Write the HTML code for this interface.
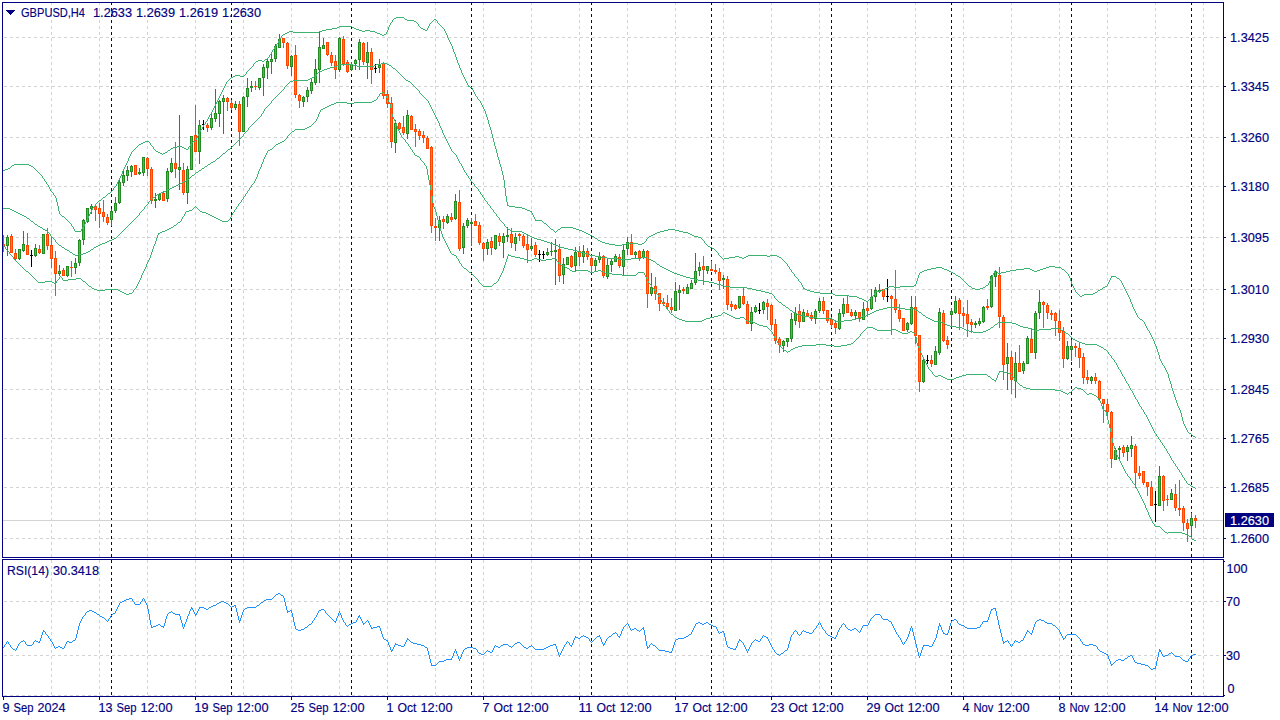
<!DOCTYPE html><html><head><meta charset="utf-8"><title>GBPUSD,H4</title>
<style>html,body{margin:0;padding:0;background:#fff;overflow:hidden}svg{display:block}text{font-family:"Liberation Sans",sans-serif;font-size:12.5px;fill:#000080;stroke:#000080;stroke-width:.15px}</style></head><body>
<svg width="1280" height="720" viewBox="0 0 1280 720">
<rect width="1280" height="720" fill="#fff"/>
<g shape-rendering="crispEdges">
<g stroke="#d3d3d3" stroke-width="1" stroke-dasharray="3 3" fill="none">
<path d="M51.5 2V557M51.5 560V696"/>
<path d="M99.5 2V557M99.5 560V696"/>
<path d="M147.5 2V557M147.5 560V696"/>
<path d="M195.5 2V557M195.5 560V696"/>
<path d="M243.5 2V557M243.5 560V696"/>
<path d="M291.5 2V557M291.5 560V696"/>
<path d="M339.5 2V557M339.5 560V696"/>
<path d="M387.5 2V557M387.5 560V696"/>
<path d="M435.5 2V557M435.5 560V696"/>
<path d="M483.5 2V557M483.5 560V696"/>
<path d="M531.5 2V557M531.5 560V696"/>
<path d="M579.5 2V557M579.5 560V696"/>
<path d="M627.5 2V557M627.5 560V696"/>
<path d="M675.5 2V557M675.5 560V696"/>
<path d="M723.5 2V557M723.5 560V696"/>
<path d="M771.5 2V557M771.5 560V696"/>
<path d="M819.5 2V557M819.5 560V696"/>
<path d="M867.5 2V557M867.5 560V696"/>
<path d="M915.5 2V557M915.5 560V696"/>
<path d="M963.5 2V557M963.5 560V696"/>
<path d="M1011.5 2V557M1011.5 560V696"/>
<path d="M1059.5 2V557M1059.5 560V696"/>
<path d="M1107.5 2V557M1107.5 560V696"/>
<path d="M1155.5 2V557M1155.5 560V696"/>
<path d="M1203.5 2V557M1203.5 560V696"/>
<path d="M4 37.5H1221"/>
<path d="M4 86.5H1221"/>
<path d="M4 137.5H1221"/>
<path d="M4 186.5H1221"/>
<path d="M4 237.5H1221"/>
<path d="M4 289.5H1221"/>
<path d="M4 338.5H1221"/>
<path d="M4 389.5H1221"/>
<path d="M4 438.5H1221"/>
<path d="M4 487.5H1221"/>
<path d="M4 538.5H1221"/>
<path d="M4 601.5H1221"/>
<path d="M4 655.5H1221"/>
<path d="M4 695.5H1221"/>
</g>
<g stroke="#000080" stroke-width="1" stroke-dasharray="3 3" fill="none">
<path d="M111.5 2V557M111.5 560V696"/>
<path d="M231.5 2V557M231.5 560V696"/>
<path d="M351.5 2V557M351.5 560V696"/>
<path d="M471.5 2V557M471.5 560V696"/>
<path d="M591.5 2V557M591.5 560V696"/>
<path d="M711.5 2V557M711.5 560V696"/>
<path d="M831.5 2V557M831.5 560V696"/>
<path d="M951.5 2V557M951.5 560V696"/>
<path d="M1071.5 2V557M1071.5 560V696"/>
<path d="M1191.5 2V557M1191.5 560V696"/>
</g>
<rect x="3" y="520" width="1220" height="1" fill="#d3d3d3"/>
<rect x="3" y="235" width="1" height="17" fill="#ff4500"/>
<rect x="2" y="244" width="3" height="2" fill="#ff4500"/>
<rect x="7" y="235" width="1" height="21" fill="#228b22"/>
<rect x="6" y="237" width="3" height="9" fill="#228b22"/>
<rect x="7" y="238" width="1" height="7" fill="#32cd32"/>
<rect x="11" y="234" width="1" height="19" fill="#ff4500"/>
<rect x="10" y="236" width="3" height="17" fill="#ff4500"/>
<rect x="11" y="237" width="1" height="15" fill="#ff8c00"/>
<rect x="15" y="249" width="1" height="12" fill="#ff4500"/>
<rect x="14" y="253" width="3" height="6" fill="#ff4500"/>
<rect x="15" y="254" width="1" height="4" fill="#ff8c00"/>
<rect x="19" y="249" width="1" height="11" fill="#228b22"/>
<rect x="18" y="249" width="3" height="10" fill="#228b22"/>
<rect x="19" y="250" width="1" height="8" fill="#32cd32"/>
<rect x="23" y="231" width="1" height="21" fill="#228b22"/>
<rect x="22" y="244" width="3" height="7" fill="#228b22"/>
<rect x="23" y="245" width="1" height="5" fill="#32cd32"/>
<rect x="27" y="233" width="1" height="22" fill="#ff4500"/>
<rect x="26" y="245" width="3" height="10" fill="#ff4500"/>
<rect x="27" y="246" width="1" height="8" fill="#ff8c00"/>
<rect x="31" y="250" width="1" height="17" fill="#000"/>
<rect x="30" y="255" width="3" height="1" fill="#000"/>
<rect x="35" y="244" width="1" height="13" fill="#228b22"/>
<rect x="34" y="248" width="3" height="8" fill="#228b22"/>
<rect x="35" y="249" width="1" height="6" fill="#32cd32"/>
<rect x="39" y="245" width="1" height="9" fill="#ff4500"/>
<rect x="38" y="249" width="3" height="4" fill="#ff4500"/>
<rect x="39" y="250" width="1" height="2" fill="#ff8c00"/>
<rect x="43" y="234" width="1" height="20" fill="#228b22"/>
<rect x="42" y="234" width="3" height="20" fill="#228b22"/>
<rect x="43" y="235" width="1" height="18" fill="#32cd32"/>
<rect x="47" y="228" width="1" height="22" fill="#ff4500"/>
<rect x="46" y="234" width="3" height="12" fill="#ff4500"/>
<rect x="47" y="235" width="1" height="10" fill="#ff8c00"/>
<rect x="51" y="237" width="1" height="31" fill="#ff4500"/>
<rect x="50" y="245" width="3" height="14" fill="#ff4500"/>
<rect x="51" y="246" width="1" height="12" fill="#ff8c00"/>
<rect x="55" y="251" width="1" height="45" fill="#ff4500"/>
<rect x="54" y="258" width="3" height="16" fill="#ff4500"/>
<rect x="55" y="259" width="1" height="14" fill="#ff8c00"/>
<rect x="59" y="265" width="1" height="11" fill="#228b22"/>
<rect x="58" y="271" width="3" height="3" fill="#228b22"/>
<rect x="59" y="272" width="1" height="1" fill="#32cd32"/>
<rect x="63" y="268" width="1" height="8" fill="#ff4500"/>
<rect x="62" y="270" width="3" height="6" fill="#ff4500"/>
<rect x="63" y="271" width="1" height="4" fill="#ff8c00"/>
<rect x="67" y="266" width="1" height="11" fill="#228b22"/>
<rect x="66" y="266" width="3" height="10" fill="#228b22"/>
<rect x="67" y="267" width="1" height="8" fill="#32cd32"/>
<rect x="71" y="261" width="1" height="16" fill="#ff4500"/>
<rect x="70" y="267" width="3" height="1" fill="#ff4500"/>
<rect x="75" y="258" width="1" height="16" fill="#228b22"/>
<rect x="74" y="263" width="3" height="5" fill="#228b22"/>
<rect x="75" y="264" width="1" height="3" fill="#32cd32"/>
<rect x="79" y="239" width="1" height="27" fill="#228b22"/>
<rect x="78" y="240" width="3" height="23" fill="#228b22"/>
<rect x="79" y="241" width="1" height="21" fill="#32cd32"/>
<rect x="83" y="219" width="1" height="26" fill="#228b22"/>
<rect x="82" y="220" width="3" height="20" fill="#228b22"/>
<rect x="83" y="221" width="1" height="18" fill="#32cd32"/>
<rect x="87" y="208" width="1" height="15" fill="#228b22"/>
<rect x="86" y="208" width="3" height="14" fill="#228b22"/>
<rect x="87" y="209" width="1" height="12" fill="#32cd32"/>
<rect x="91" y="204" width="1" height="10" fill="#228b22"/>
<rect x="90" y="206" width="3" height="3" fill="#228b22"/>
<rect x="91" y="207" width="1" height="1" fill="#32cd32"/>
<rect x="95" y="206" width="1" height="15" fill="#ff4500"/>
<rect x="94" y="206" width="3" height="4" fill="#ff4500"/>
<rect x="95" y="207" width="1" height="2" fill="#ff8c00"/>
<rect x="99" y="203" width="1" height="25" fill="#ff4500"/>
<rect x="98" y="208" width="3" height="6" fill="#ff4500"/>
<rect x="99" y="209" width="1" height="4" fill="#ff8c00"/>
<rect x="103" y="200" width="1" height="22" fill="#ff4500"/>
<rect x="102" y="212" width="3" height="5" fill="#ff4500"/>
<rect x="103" y="213" width="1" height="3" fill="#ff8c00"/>
<rect x="107" y="214" width="1" height="11" fill="#ff4500"/>
<rect x="106" y="217" width="3" height="6" fill="#ff4500"/>
<rect x="107" y="218" width="1" height="4" fill="#ff8c00"/>
<rect x="111" y="209" width="1" height="17" fill="#228b22"/>
<rect x="110" y="211" width="3" height="9" fill="#228b22"/>
<rect x="111" y="212" width="1" height="7" fill="#32cd32"/>
<rect x="115" y="197" width="1" height="16" fill="#228b22"/>
<rect x="114" y="203" width="3" height="8" fill="#228b22"/>
<rect x="115" y="204" width="1" height="6" fill="#32cd32"/>
<rect x="119" y="179" width="1" height="25" fill="#228b22"/>
<rect x="118" y="182" width="3" height="21" fill="#228b22"/>
<rect x="119" y="183" width="1" height="19" fill="#32cd32"/>
<rect x="123" y="171" width="1" height="15" fill="#228b22"/>
<rect x="122" y="175" width="3" height="8" fill="#228b22"/>
<rect x="123" y="176" width="1" height="6" fill="#32cd32"/>
<rect x="127" y="166" width="1" height="15" fill="#228b22"/>
<rect x="126" y="170" width="3" height="6" fill="#228b22"/>
<rect x="127" y="171" width="1" height="4" fill="#32cd32"/>
<rect x="131" y="165" width="1" height="12" fill="#228b22"/>
<rect x="130" y="166" width="3" height="6" fill="#228b22"/>
<rect x="131" y="167" width="1" height="4" fill="#32cd32"/>
<rect x="135" y="165" width="1" height="10" fill="#ff4500"/>
<rect x="134" y="165" width="3" height="10" fill="#ff4500"/>
<rect x="135" y="166" width="1" height="8" fill="#ff8c00"/>
<rect x="139" y="168" width="1" height="7" fill="#228b22"/>
<rect x="138" y="172" width="3" height="2" fill="#228b22"/>
<rect x="143" y="157" width="1" height="19" fill="#228b22"/>
<rect x="142" y="157" width="3" height="16" fill="#228b22"/>
<rect x="143" y="158" width="1" height="14" fill="#32cd32"/>
<rect x="147" y="157" width="1" height="19" fill="#ff4500"/>
<rect x="146" y="158" width="3" height="11" fill="#ff4500"/>
<rect x="147" y="159" width="1" height="9" fill="#ff8c00"/>
<rect x="151" y="167" width="1" height="37" fill="#ff4500"/>
<rect x="150" y="169" width="3" height="32" fill="#ff4500"/>
<rect x="151" y="170" width="1" height="30" fill="#ff8c00"/>
<rect x="155" y="193" width="1" height="15" fill="#228b22"/>
<rect x="154" y="199" width="3" height="2" fill="#228b22"/>
<rect x="159" y="193" width="1" height="8" fill="#228b22"/>
<rect x="158" y="194" width="3" height="6" fill="#228b22"/>
<rect x="159" y="195" width="1" height="4" fill="#32cd32"/>
<rect x="163" y="191" width="1" height="10" fill="#ff4500"/>
<rect x="162" y="193" width="3" height="8" fill="#ff4500"/>
<rect x="163" y="194" width="1" height="6" fill="#ff8c00"/>
<rect x="167" y="168" width="1" height="34" fill="#228b22"/>
<rect x="166" y="171" width="3" height="28" fill="#228b22"/>
<rect x="167" y="172" width="1" height="26" fill="#32cd32"/>
<rect x="171" y="158" width="1" height="15" fill="#228b22"/>
<rect x="170" y="163" width="3" height="9" fill="#228b22"/>
<rect x="171" y="164" width="1" height="7" fill="#32cd32"/>
<rect x="175" y="142" width="1" height="36" fill="#ff4500"/>
<rect x="174" y="163" width="3" height="6" fill="#ff4500"/>
<rect x="175" y="164" width="1" height="4" fill="#ff8c00"/>
<rect x="179" y="115" width="1" height="75" fill="#228b22"/>
<rect x="178" y="167" width="3" height="3" fill="#228b22"/>
<rect x="179" y="168" width="1" height="1" fill="#32cd32"/>
<rect x="183" y="163" width="1" height="32" fill="#ff4500"/>
<rect x="182" y="170" width="3" height="23" fill="#ff4500"/>
<rect x="183" y="171" width="1" height="21" fill="#ff8c00"/>
<rect x="187" y="166" width="1" height="38" fill="#228b22"/>
<rect x="186" y="169" width="3" height="24" fill="#228b22"/>
<rect x="187" y="170" width="1" height="22" fill="#32cd32"/>
<rect x="191" y="136" width="1" height="34" fill="#228b22"/>
<rect x="190" y="136" width="3" height="34" fill="#228b22"/>
<rect x="191" y="137" width="1" height="32" fill="#32cd32"/>
<rect x="195" y="105" width="1" height="47" fill="#ff4500"/>
<rect x="194" y="135" width="3" height="17" fill="#ff4500"/>
<rect x="195" y="136" width="1" height="15" fill="#ff8c00"/>
<rect x="199" y="120" width="1" height="44" fill="#228b22"/>
<rect x="198" y="125" width="3" height="27" fill="#228b22"/>
<rect x="199" y="126" width="1" height="25" fill="#32cd32"/>
<rect x="203" y="120" width="1" height="10" fill="#000"/>
<rect x="202" y="124" width="3" height="1" fill="#000"/>
<rect x="207" y="123" width="1" height="9" fill="#ff4500"/>
<rect x="206" y="125" width="3" height="3" fill="#ff4500"/>
<rect x="207" y="126" width="1" height="1" fill="#ff8c00"/>
<rect x="211" y="113" width="1" height="17" fill="#228b22"/>
<rect x="210" y="118" width="3" height="10" fill="#228b22"/>
<rect x="211" y="119" width="1" height="8" fill="#32cd32"/>
<rect x="215" y="89" width="1" height="33" fill="#228b22"/>
<rect x="214" y="113" width="3" height="6" fill="#228b22"/>
<rect x="215" y="114" width="1" height="4" fill="#32cd32"/>
<rect x="219" y="100" width="1" height="27" fill="#228b22"/>
<rect x="218" y="101" width="3" height="13" fill="#228b22"/>
<rect x="219" y="102" width="1" height="11" fill="#32cd32"/>
<rect x="223" y="95" width="1" height="39" fill="#228b22"/>
<rect x="222" y="98" width="3" height="4" fill="#228b22"/>
<rect x="223" y="99" width="1" height="2" fill="#32cd32"/>
<rect x="227" y="97" width="1" height="14" fill="#ff4500"/>
<rect x="226" y="98" width="3" height="4" fill="#ff4500"/>
<rect x="227" y="99" width="1" height="2" fill="#ff8c00"/>
<rect x="231" y="100" width="1" height="10" fill="#ff4500"/>
<rect x="230" y="103" width="3" height="5" fill="#ff4500"/>
<rect x="231" y="104" width="1" height="3" fill="#ff8c00"/>
<rect x="235" y="101" width="1" height="9" fill="#228b22"/>
<rect x="234" y="104" width="3" height="4" fill="#228b22"/>
<rect x="235" y="105" width="1" height="2" fill="#32cd32"/>
<rect x="239" y="101" width="1" height="45" fill="#ff4500"/>
<rect x="238" y="104" width="3" height="28" fill="#ff4500"/>
<rect x="239" y="105" width="1" height="26" fill="#ff8c00"/>
<rect x="243" y="96" width="1" height="36" fill="#228b22"/>
<rect x="242" y="97" width="3" height="35" fill="#228b22"/>
<rect x="243" y="98" width="1" height="33" fill="#32cd32"/>
<rect x="247" y="78" width="1" height="29" fill="#228b22"/>
<rect x="246" y="88" width="3" height="9" fill="#228b22"/>
<rect x="247" y="89" width="1" height="7" fill="#32cd32"/>
<rect x="251" y="81" width="1" height="11" fill="#228b22"/>
<rect x="250" y="86" width="3" height="2" fill="#228b22"/>
<rect x="255" y="81" width="1" height="9" fill="#ff4500"/>
<rect x="254" y="86" width="3" height="1" fill="#ff4500"/>
<rect x="259" y="78" width="1" height="12" fill="#228b22"/>
<rect x="258" y="78" width="3" height="10" fill="#228b22"/>
<rect x="259" y="79" width="1" height="8" fill="#32cd32"/>
<rect x="263" y="64" width="1" height="32" fill="#228b22"/>
<rect x="262" y="67" width="3" height="11" fill="#228b22"/>
<rect x="263" y="68" width="1" height="9" fill="#32cd32"/>
<rect x="267" y="59" width="1" height="20" fill="#228b22"/>
<rect x="266" y="61" width="3" height="7" fill="#228b22"/>
<rect x="267" y="62" width="1" height="5" fill="#32cd32"/>
<rect x="271" y="54" width="1" height="20" fill="#228b22"/>
<rect x="270" y="59" width="3" height="3" fill="#228b22"/>
<rect x="271" y="60" width="1" height="1" fill="#32cd32"/>
<rect x="275" y="44" width="1" height="18" fill="#228b22"/>
<rect x="274" y="46" width="3" height="13" fill="#228b22"/>
<rect x="275" y="47" width="1" height="11" fill="#32cd32"/>
<rect x="279" y="34" width="1" height="14" fill="#228b22"/>
<rect x="278" y="39" width="3" height="9" fill="#228b22"/>
<rect x="279" y="40" width="1" height="7" fill="#32cd32"/>
<rect x="283" y="38" width="1" height="10" fill="#ff4500"/>
<rect x="282" y="38" width="3" height="5" fill="#ff4500"/>
<rect x="283" y="39" width="1" height="3" fill="#ff8c00"/>
<rect x="287" y="42" width="1" height="27" fill="#ff4500"/>
<rect x="286" y="43" width="3" height="23" fill="#ff4500"/>
<rect x="287" y="44" width="1" height="21" fill="#ff8c00"/>
<rect x="291" y="55" width="1" height="21" fill="#228b22"/>
<rect x="290" y="56" width="3" height="11" fill="#228b22"/>
<rect x="291" y="57" width="1" height="9" fill="#32cd32"/>
<rect x="295" y="45" width="1" height="53" fill="#ff4500"/>
<rect x="294" y="55" width="3" height="40" fill="#ff4500"/>
<rect x="295" y="56" width="1" height="38" fill="#ff8c00"/>
<rect x="299" y="94" width="1" height="14" fill="#ff4500"/>
<rect x="298" y="95" width="3" height="6" fill="#ff4500"/>
<rect x="299" y="96" width="1" height="4" fill="#ff8c00"/>
<rect x="303" y="96" width="1" height="11" fill="#228b22"/>
<rect x="302" y="97" width="3" height="5" fill="#228b22"/>
<rect x="303" y="98" width="1" height="3" fill="#32cd32"/>
<rect x="307" y="87" width="1" height="15" fill="#228b22"/>
<rect x="306" y="90" width="3" height="7" fill="#228b22"/>
<rect x="307" y="91" width="1" height="5" fill="#32cd32"/>
<rect x="311" y="79" width="1" height="15" fill="#228b22"/>
<rect x="310" y="82" width="3" height="9" fill="#228b22"/>
<rect x="311" y="83" width="1" height="7" fill="#32cd32"/>
<rect x="315" y="59" width="1" height="26" fill="#228b22"/>
<rect x="314" y="69" width="3" height="14" fill="#228b22"/>
<rect x="315" y="70" width="1" height="12" fill="#32cd32"/>
<rect x="319" y="32" width="1" height="51" fill="#228b22"/>
<rect x="318" y="47" width="3" height="23" fill="#228b22"/>
<rect x="319" y="48" width="1" height="21" fill="#32cd32"/>
<rect x="323" y="38" width="1" height="11" fill="#228b22"/>
<rect x="322" y="45" width="3" height="4" fill="#228b22"/>
<rect x="323" y="46" width="1" height="2" fill="#32cd32"/>
<rect x="327" y="42" width="1" height="14" fill="#ff4500"/>
<rect x="326" y="42" width="3" height="13" fill="#ff4500"/>
<rect x="327" y="43" width="1" height="11" fill="#ff8c00"/>
<rect x="331" y="52" width="1" height="14" fill="#ff4500"/>
<rect x="330" y="55" width="3" height="8" fill="#ff4500"/>
<rect x="331" y="56" width="1" height="6" fill="#ff8c00"/>
<rect x="335" y="55" width="1" height="24" fill="#ff4500"/>
<rect x="334" y="61" width="3" height="9" fill="#ff4500"/>
<rect x="335" y="62" width="1" height="7" fill="#ff8c00"/>
<rect x="339" y="37" width="1" height="35" fill="#228b22"/>
<rect x="338" y="38" width="3" height="32" fill="#228b22"/>
<rect x="339" y="39" width="1" height="30" fill="#32cd32"/>
<rect x="343" y="36" width="1" height="30" fill="#ff4500"/>
<rect x="342" y="39" width="3" height="25" fill="#ff4500"/>
<rect x="343" y="40" width="1" height="23" fill="#ff8c00"/>
<rect x="347" y="60" width="1" height="13" fill="#ff4500"/>
<rect x="346" y="62" width="3" height="10" fill="#ff4500"/>
<rect x="347" y="63" width="1" height="8" fill="#ff8c00"/>
<rect x="351" y="62" width="1" height="9" fill="#228b22"/>
<rect x="350" y="64" width="3" height="6" fill="#228b22"/>
<rect x="351" y="65" width="1" height="4" fill="#32cd32"/>
<rect x="355" y="59" width="1" height="11" fill="#228b22"/>
<rect x="354" y="60" width="3" height="4" fill="#228b22"/>
<rect x="355" y="61" width="1" height="2" fill="#32cd32"/>
<rect x="359" y="39" width="1" height="31" fill="#228b22"/>
<rect x="358" y="42" width="3" height="18" fill="#228b22"/>
<rect x="359" y="43" width="1" height="16" fill="#32cd32"/>
<rect x="363" y="42" width="1" height="23" fill="#ff4500"/>
<rect x="362" y="43" width="3" height="19" fill="#ff4500"/>
<rect x="363" y="44" width="1" height="17" fill="#ff8c00"/>
<rect x="367" y="42" width="1" height="37" fill="#228b22"/>
<rect x="366" y="52" width="3" height="11" fill="#228b22"/>
<rect x="367" y="53" width="1" height="9" fill="#32cd32"/>
<rect x="371" y="48" width="1" height="36" fill="#ff4500"/>
<rect x="370" y="52" width="3" height="18" fill="#ff4500"/>
<rect x="371" y="53" width="1" height="16" fill="#ff8c00"/>
<rect x="375" y="64" width="1" height="9" fill="#000"/>
<rect x="374" y="68" width="3" height="1" fill="#000"/>
<rect x="379" y="59" width="1" height="14" fill="#228b22"/>
<rect x="378" y="65" width="3" height="3" fill="#228b22"/>
<rect x="379" y="66" width="1" height="1" fill="#32cd32"/>
<rect x="383" y="62" width="1" height="37" fill="#ff4500"/>
<rect x="382" y="63" width="3" height="33" fill="#ff4500"/>
<rect x="383" y="64" width="1" height="31" fill="#ff8c00"/>
<rect x="387" y="90" width="1" height="18" fill="#ff4500"/>
<rect x="386" y="94" width="3" height="10" fill="#ff4500"/>
<rect x="387" y="95" width="1" height="8" fill="#ff8c00"/>
<rect x="391" y="97" width="1" height="51" fill="#ff4500"/>
<rect x="390" y="103" width="3" height="39" fill="#ff4500"/>
<rect x="391" y="104" width="1" height="37" fill="#ff8c00"/>
<rect x="395" y="120" width="1" height="33" fill="#228b22"/>
<rect x="394" y="123" width="3" height="20" fill="#228b22"/>
<rect x="395" y="124" width="1" height="18" fill="#32cd32"/>
<rect x="399" y="122" width="1" height="8" fill="#ff4500"/>
<rect x="398" y="123" width="3" height="6" fill="#ff4500"/>
<rect x="399" y="124" width="1" height="4" fill="#ff8c00"/>
<rect x="403" y="116" width="1" height="19" fill="#ff4500"/>
<rect x="402" y="127" width="3" height="6" fill="#ff4500"/>
<rect x="403" y="128" width="1" height="4" fill="#ff8c00"/>
<rect x="407" y="110" width="1" height="29" fill="#228b22"/>
<rect x="406" y="115" width="3" height="19" fill="#228b22"/>
<rect x="407" y="116" width="1" height="17" fill="#32cd32"/>
<rect x="411" y="115" width="1" height="15" fill="#ff4500"/>
<rect x="410" y="116" width="3" height="14" fill="#ff4500"/>
<rect x="411" y="117" width="1" height="12" fill="#ff8c00"/>
<rect x="415" y="124" width="1" height="23" fill="#ff4500"/>
<rect x="414" y="129" width="3" height="3" fill="#ff4500"/>
<rect x="415" y="130" width="1" height="1" fill="#ff8c00"/>
<rect x="419" y="129" width="1" height="11" fill="#ff4500"/>
<rect x="418" y="131" width="3" height="5" fill="#ff4500"/>
<rect x="419" y="132" width="1" height="3" fill="#ff8c00"/>
<rect x="423" y="131" width="1" height="12" fill="#ff4500"/>
<rect x="422" y="135" width="3" height="3" fill="#ff4500"/>
<rect x="423" y="136" width="1" height="1" fill="#ff8c00"/>
<rect x="427" y="136" width="1" height="13" fill="#ff4500"/>
<rect x="426" y="138" width="3" height="11" fill="#ff4500"/>
<rect x="427" y="139" width="1" height="9" fill="#ff8c00"/>
<rect x="431" y="146" width="1" height="87" fill="#ff4500"/>
<rect x="430" y="147" width="3" height="79" fill="#ff4500"/>
<rect x="431" y="148" width="1" height="77" fill="#ff8c00"/>
<rect x="435" y="218" width="1" height="23" fill="#ff4500"/>
<rect x="434" y="226" width="3" height="2" fill="#ff4500"/>
<rect x="439" y="216" width="1" height="25" fill="#228b22"/>
<rect x="438" y="220" width="3" height="8" fill="#228b22"/>
<rect x="439" y="221" width="1" height="6" fill="#32cd32"/>
<rect x="443" y="216" width="1" height="13" fill="#ff4500"/>
<rect x="442" y="219" width="3" height="3" fill="#ff4500"/>
<rect x="443" y="220" width="1" height="1" fill="#ff8c00"/>
<rect x="447" y="214" width="1" height="10" fill="#228b22"/>
<rect x="446" y="216" width="3" height="7" fill="#228b22"/>
<rect x="447" y="217" width="1" height="5" fill="#32cd32"/>
<rect x="451" y="213" width="1" height="9" fill="#ff4500"/>
<rect x="450" y="217" width="3" height="3" fill="#ff4500"/>
<rect x="451" y="218" width="1" height="1" fill="#ff8c00"/>
<rect x="455" y="194" width="1" height="26" fill="#228b22"/>
<rect x="454" y="201" width="3" height="18" fill="#228b22"/>
<rect x="455" y="202" width="1" height="16" fill="#32cd32"/>
<rect x="459" y="190" width="1" height="61" fill="#ff4500"/>
<rect x="458" y="202" width="3" height="47" fill="#ff4500"/>
<rect x="459" y="203" width="1" height="45" fill="#ff8c00"/>
<rect x="463" y="223" width="1" height="31" fill="#228b22"/>
<rect x="462" y="226" width="3" height="22" fill="#228b22"/>
<rect x="463" y="227" width="1" height="20" fill="#32cd32"/>
<rect x="467" y="218" width="1" height="10" fill="#228b22"/>
<rect x="466" y="220" width="3" height="6" fill="#228b22"/>
<rect x="467" y="221" width="1" height="4" fill="#32cd32"/>
<rect x="471" y="218" width="1" height="28" fill="#228b22"/>
<rect x="470" y="222" width="3" height="2" fill="#228b22"/>
<rect x="475" y="214" width="1" height="12" fill="#ff4500"/>
<rect x="474" y="221" width="3" height="5" fill="#ff4500"/>
<rect x="475" y="222" width="1" height="3" fill="#ff8c00"/>
<rect x="479" y="222" width="1" height="23" fill="#ff4500"/>
<rect x="478" y="225" width="3" height="18" fill="#ff4500"/>
<rect x="479" y="226" width="1" height="16" fill="#ff8c00"/>
<rect x="483" y="242" width="1" height="19" fill="#ff4500"/>
<rect x="482" y="243" width="3" height="6" fill="#ff4500"/>
<rect x="483" y="244" width="1" height="4" fill="#ff8c00"/>
<rect x="487" y="239" width="1" height="16" fill="#228b22"/>
<rect x="486" y="242" width="3" height="7" fill="#228b22"/>
<rect x="487" y="243" width="1" height="5" fill="#32cd32"/>
<rect x="491" y="237" width="1" height="18" fill="#ff4500"/>
<rect x="490" y="241" width="3" height="7" fill="#ff4500"/>
<rect x="491" y="242" width="1" height="5" fill="#ff8c00"/>
<rect x="495" y="235" width="1" height="15" fill="#228b22"/>
<rect x="494" y="235" width="3" height="14" fill="#228b22"/>
<rect x="495" y="236" width="1" height="12" fill="#32cd32"/>
<rect x="499" y="233" width="1" height="13" fill="#ff4500"/>
<rect x="498" y="236" width="3" height="6" fill="#ff4500"/>
<rect x="499" y="237" width="1" height="4" fill="#ff8c00"/>
<rect x="503" y="233" width="1" height="25" fill="#228b22"/>
<rect x="502" y="236" width="3" height="7" fill="#228b22"/>
<rect x="503" y="237" width="1" height="5" fill="#32cd32"/>
<rect x="507" y="227" width="1" height="15" fill="#228b22"/>
<rect x="506" y="235" width="3" height="2" fill="#228b22"/>
<rect x="511" y="228" width="1" height="20" fill="#ff4500"/>
<rect x="510" y="234" width="3" height="9" fill="#ff4500"/>
<rect x="511" y="235" width="1" height="7" fill="#ff8c00"/>
<rect x="515" y="233" width="1" height="18" fill="#228b22"/>
<rect x="514" y="237" width="3" height="7" fill="#228b22"/>
<rect x="515" y="238" width="1" height="5" fill="#32cd32"/>
<rect x="519" y="233" width="1" height="8" fill="#ff4500"/>
<rect x="518" y="234" width="3" height="2" fill="#ff4500"/>
<rect x="523" y="234" width="1" height="14" fill="#ff4500"/>
<rect x="522" y="236" width="3" height="10" fill="#ff4500"/>
<rect x="523" y="237" width="1" height="8" fill="#ff8c00"/>
<rect x="527" y="234" width="1" height="29" fill="#ff4500"/>
<rect x="526" y="244" width="3" height="6" fill="#ff4500"/>
<rect x="527" y="245" width="1" height="4" fill="#ff8c00"/>
<rect x="531" y="238" width="1" height="13" fill="#228b22"/>
<rect x="530" y="246" width="3" height="3" fill="#228b22"/>
<rect x="531" y="247" width="1" height="1" fill="#32cd32"/>
<rect x="535" y="242" width="1" height="15" fill="#ff4500"/>
<rect x="534" y="245" width="3" height="10" fill="#ff4500"/>
<rect x="535" y="246" width="1" height="8" fill="#ff8c00"/>
<rect x="539" y="250" width="1" height="12" fill="#000"/>
<rect x="538" y="254" width="3" height="1" fill="#000"/>
<rect x="543" y="251" width="1" height="8" fill="#000"/>
<rect x="542" y="254" width="3" height="1" fill="#000"/>
<rect x="547" y="248" width="1" height="8" fill="#228b22"/>
<rect x="546" y="252" width="3" height="3" fill="#228b22"/>
<rect x="547" y="253" width="1" height="1" fill="#32cd32"/>
<rect x="551" y="242" width="1" height="14" fill="#228b22"/>
<rect x="550" y="251" width="3" height="1" fill="#228b22"/>
<rect x="555" y="239" width="1" height="46" fill="#228b22"/>
<rect x="554" y="250" width="3" height="2" fill="#228b22"/>
<rect x="559" y="244" width="1" height="38" fill="#ff4500"/>
<rect x="558" y="249" width="3" height="27" fill="#ff4500"/>
<rect x="559" y="250" width="1" height="25" fill="#ff8c00"/>
<rect x="563" y="258" width="1" height="26" fill="#228b22"/>
<rect x="562" y="264" width="3" height="11" fill="#228b22"/>
<rect x="563" y="265" width="1" height="9" fill="#32cd32"/>
<rect x="567" y="257" width="1" height="8" fill="#228b22"/>
<rect x="566" y="257" width="3" height="8" fill="#228b22"/>
<rect x="567" y="258" width="1" height="6" fill="#32cd32"/>
<rect x="571" y="255" width="1" height="13" fill="#ff4500"/>
<rect x="570" y="256" width="3" height="11" fill="#ff4500"/>
<rect x="571" y="257" width="1" height="9" fill="#ff8c00"/>
<rect x="575" y="247" width="1" height="25" fill="#228b22"/>
<rect x="574" y="252" width="3" height="14" fill="#228b22"/>
<rect x="575" y="253" width="1" height="12" fill="#32cd32"/>
<rect x="579" y="246" width="1" height="20" fill="#ff4500"/>
<rect x="578" y="251" width="3" height="6" fill="#ff4500"/>
<rect x="579" y="252" width="1" height="4" fill="#ff8c00"/>
<rect x="583" y="245" width="1" height="18" fill="#228b22"/>
<rect x="582" y="251" width="3" height="6" fill="#228b22"/>
<rect x="583" y="252" width="1" height="4" fill="#32cd32"/>
<rect x="587" y="248" width="1" height="12" fill="#ff4500"/>
<rect x="586" y="251" width="3" height="6" fill="#ff4500"/>
<rect x="587" y="252" width="1" height="4" fill="#ff8c00"/>
<rect x="591" y="255" width="1" height="17" fill="#ff4500"/>
<rect x="590" y="258" width="3" height="8" fill="#ff4500"/>
<rect x="591" y="259" width="1" height="6" fill="#ff8c00"/>
<rect x="595" y="258" width="1" height="13" fill="#228b22"/>
<rect x="594" y="260" width="3" height="6" fill="#228b22"/>
<rect x="595" y="261" width="1" height="4" fill="#32cd32"/>
<rect x="599" y="252" width="1" height="11" fill="#228b22"/>
<rect x="598" y="256" width="3" height="4" fill="#228b22"/>
<rect x="599" y="257" width="1" height="2" fill="#32cd32"/>
<rect x="603" y="255" width="1" height="23" fill="#ff4500"/>
<rect x="602" y="256" width="3" height="20" fill="#ff4500"/>
<rect x="603" y="257" width="1" height="18" fill="#ff8c00"/>
<rect x="607" y="258" width="1" height="21" fill="#228b22"/>
<rect x="606" y="265" width="3" height="12" fill="#228b22"/>
<rect x="607" y="266" width="1" height="10" fill="#32cd32"/>
<rect x="611" y="259" width="1" height="13" fill="#228b22"/>
<rect x="610" y="261" width="3" height="4" fill="#228b22"/>
<rect x="611" y="262" width="1" height="2" fill="#32cd32"/>
<rect x="615" y="254" width="1" height="8" fill="#228b22"/>
<rect x="614" y="256" width="3" height="6" fill="#228b22"/>
<rect x="615" y="257" width="1" height="4" fill="#32cd32"/>
<rect x="619" y="254" width="1" height="14" fill="#ff4500"/>
<rect x="618" y="257" width="3" height="9" fill="#ff4500"/>
<rect x="619" y="258" width="1" height="7" fill="#ff8c00"/>
<rect x="623" y="244" width="1" height="32" fill="#228b22"/>
<rect x="622" y="250" width="3" height="17" fill="#228b22"/>
<rect x="623" y="251" width="1" height="15" fill="#32cd32"/>
<rect x="627" y="237" width="1" height="18" fill="#228b22"/>
<rect x="626" y="242" width="3" height="7" fill="#228b22"/>
<rect x="627" y="243" width="1" height="5" fill="#32cd32"/>
<rect x="631" y="234" width="1" height="21" fill="#ff4500"/>
<rect x="630" y="242" width="3" height="13" fill="#ff4500"/>
<rect x="631" y="243" width="1" height="11" fill="#ff8c00"/>
<rect x="635" y="251" width="1" height="8" fill="#228b22"/>
<rect x="634" y="252" width="3" height="3" fill="#228b22"/>
<rect x="635" y="253" width="1" height="1" fill="#32cd32"/>
<rect x="639" y="250" width="1" height="11" fill="#ff4500"/>
<rect x="638" y="251" width="3" height="7" fill="#ff4500"/>
<rect x="639" y="252" width="1" height="5" fill="#ff8c00"/>
<rect x="643" y="249" width="1" height="10" fill="#228b22"/>
<rect x="642" y="251" width="3" height="7" fill="#228b22"/>
<rect x="643" y="252" width="1" height="5" fill="#32cd32"/>
<rect x="647" y="250" width="1" height="58" fill="#ff4500"/>
<rect x="646" y="251" width="3" height="43" fill="#ff4500"/>
<rect x="647" y="252" width="1" height="41" fill="#ff8c00"/>
<rect x="651" y="273" width="1" height="23" fill="#228b22"/>
<rect x="650" y="287" width="3" height="7" fill="#228b22"/>
<rect x="651" y="288" width="1" height="5" fill="#32cd32"/>
<rect x="655" y="277" width="1" height="23" fill="#ff4500"/>
<rect x="654" y="286" width="3" height="8" fill="#ff4500"/>
<rect x="655" y="287" width="1" height="6" fill="#ff8c00"/>
<rect x="659" y="293" width="1" height="18" fill="#ff4500"/>
<rect x="658" y="293" width="3" height="11" fill="#ff4500"/>
<rect x="659" y="294" width="1" height="9" fill="#ff8c00"/>
<rect x="663" y="298" width="1" height="8" fill="#ff4500"/>
<rect x="662" y="302" width="3" height="2" fill="#ff4500"/>
<rect x="667" y="295" width="1" height="14" fill="#ff4500"/>
<rect x="666" y="303" width="3" height="4" fill="#ff4500"/>
<rect x="667" y="304" width="1" height="2" fill="#ff8c00"/>
<rect x="671" y="298" width="1" height="15" fill="#ff4500"/>
<rect x="670" y="307" width="3" height="3" fill="#ff4500"/>
<rect x="671" y="308" width="1" height="1" fill="#ff8c00"/>
<rect x="675" y="282" width="1" height="29" fill="#228b22"/>
<rect x="674" y="291" width="3" height="20" fill="#228b22"/>
<rect x="675" y="292" width="1" height="18" fill="#32cd32"/>
<rect x="679" y="285" width="1" height="25" fill="#228b22"/>
<rect x="678" y="290" width="3" height="3" fill="#228b22"/>
<rect x="679" y="291" width="1" height="1" fill="#32cd32"/>
<rect x="683" y="287" width="1" height="7" fill="#ff4500"/>
<rect x="682" y="289" width="3" height="2" fill="#ff4500"/>
<rect x="687" y="284" width="1" height="10" fill="#228b22"/>
<rect x="686" y="287" width="3" height="7" fill="#228b22"/>
<rect x="687" y="288" width="1" height="5" fill="#32cd32"/>
<rect x="691" y="280" width="1" height="9" fill="#228b22"/>
<rect x="690" y="283" width="3" height="6" fill="#228b22"/>
<rect x="691" y="284" width="1" height="4" fill="#32cd32"/>
<rect x="695" y="253" width="1" height="32" fill="#228b22"/>
<rect x="694" y="271" width="3" height="12" fill="#228b22"/>
<rect x="695" y="272" width="1" height="10" fill="#32cd32"/>
<rect x="699" y="262" width="1" height="14" fill="#228b22"/>
<rect x="698" y="267" width="3" height="4" fill="#228b22"/>
<rect x="699" y="268" width="1" height="2" fill="#32cd32"/>
<rect x="703" y="256" width="1" height="29" fill="#ff4500"/>
<rect x="702" y="266" width="3" height="4" fill="#ff4500"/>
<rect x="703" y="267" width="1" height="2" fill="#ff8c00"/>
<rect x="707" y="266" width="1" height="8" fill="#228b22"/>
<rect x="706" y="266" width="3" height="5" fill="#228b22"/>
<rect x="707" y="267" width="1" height="3" fill="#32cd32"/>
<rect x="711" y="261" width="1" height="10" fill="#ff4500"/>
<rect x="710" y="269" width="3" height="2" fill="#ff4500"/>
<rect x="715" y="264" width="1" height="10" fill="#ff4500"/>
<rect x="714" y="270" width="3" height="2" fill="#ff4500"/>
<rect x="719" y="268" width="1" height="22" fill="#ff4500"/>
<rect x="718" y="272" width="3" height="9" fill="#ff4500"/>
<rect x="719" y="273" width="1" height="7" fill="#ff8c00"/>
<rect x="723" y="275" width="1" height="14" fill="#228b22"/>
<rect x="722" y="278" width="3" height="2" fill="#228b22"/>
<rect x="727" y="276" width="1" height="34" fill="#ff4500"/>
<rect x="726" y="279" width="3" height="26" fill="#ff4500"/>
<rect x="727" y="280" width="1" height="24" fill="#ff8c00"/>
<rect x="731" y="301" width="1" height="10" fill="#ff4500"/>
<rect x="730" y="304" width="3" height="3" fill="#ff4500"/>
<rect x="731" y="305" width="1" height="1" fill="#ff8c00"/>
<rect x="735" y="304" width="1" height="6" fill="#ff4500"/>
<rect x="734" y="305" width="3" height="4" fill="#ff4500"/>
<rect x="735" y="306" width="1" height="2" fill="#ff8c00"/>
<rect x="739" y="296" width="1" height="13" fill="#228b22"/>
<rect x="738" y="296" width="3" height="12" fill="#228b22"/>
<rect x="739" y="297" width="1" height="10" fill="#32cd32"/>
<rect x="743" y="288" width="1" height="17" fill="#ff4500"/>
<rect x="742" y="296" width="3" height="8" fill="#ff4500"/>
<rect x="743" y="297" width="1" height="6" fill="#ff8c00"/>
<rect x="747" y="301" width="1" height="23" fill="#ff4500"/>
<rect x="746" y="304" width="3" height="20" fill="#ff4500"/>
<rect x="747" y="305" width="1" height="18" fill="#ff8c00"/>
<rect x="751" y="307" width="1" height="24" fill="#228b22"/>
<rect x="750" y="312" width="3" height="12" fill="#228b22"/>
<rect x="751" y="313" width="1" height="10" fill="#32cd32"/>
<rect x="755" y="305" width="1" height="8" fill="#228b22"/>
<rect x="754" y="307" width="3" height="5" fill="#228b22"/>
<rect x="755" y="308" width="1" height="3" fill="#32cd32"/>
<rect x="759" y="303" width="1" height="11" fill="#000"/>
<rect x="758" y="310" width="3" height="1" fill="#000"/>
<rect x="763" y="301" width="1" height="13" fill="#228b22"/>
<rect x="762" y="302" width="3" height="8" fill="#228b22"/>
<rect x="763" y="303" width="1" height="6" fill="#32cd32"/>
<rect x="767" y="299" width="1" height="21" fill="#ff4500"/>
<rect x="766" y="303" width="3" height="4" fill="#ff4500"/>
<rect x="767" y="304" width="1" height="2" fill="#ff8c00"/>
<rect x="771" y="304" width="1" height="26" fill="#ff4500"/>
<rect x="770" y="305" width="3" height="20" fill="#ff4500"/>
<rect x="771" y="306" width="1" height="18" fill="#ff8c00"/>
<rect x="775" y="319" width="1" height="25" fill="#ff4500"/>
<rect x="774" y="324" width="3" height="17" fill="#ff4500"/>
<rect x="775" y="325" width="1" height="15" fill="#ff8c00"/>
<rect x="779" y="337" width="1" height="16" fill="#ff4500"/>
<rect x="778" y="339" width="3" height="6" fill="#ff4500"/>
<rect x="779" y="340" width="1" height="4" fill="#ff8c00"/>
<rect x="783" y="340" width="1" height="12" fill="#228b22"/>
<rect x="782" y="341" width="3" height="5" fill="#228b22"/>
<rect x="783" y="342" width="1" height="3" fill="#32cd32"/>
<rect x="787" y="338" width="1" height="9" fill="#228b22"/>
<rect x="786" y="338" width="3" height="4" fill="#228b22"/>
<rect x="787" y="339" width="1" height="2" fill="#32cd32"/>
<rect x="791" y="313" width="1" height="29" fill="#228b22"/>
<rect x="790" y="319" width="3" height="20" fill="#228b22"/>
<rect x="791" y="320" width="1" height="18" fill="#32cd32"/>
<rect x="795" y="307" width="1" height="18" fill="#228b22"/>
<rect x="794" y="313" width="3" height="8" fill="#228b22"/>
<rect x="795" y="314" width="1" height="6" fill="#32cd32"/>
<rect x="799" y="304" width="1" height="24" fill="#ff4500"/>
<rect x="798" y="311" width="3" height="11" fill="#ff4500"/>
<rect x="799" y="312" width="1" height="9" fill="#ff8c00"/>
<rect x="803" y="309" width="1" height="13" fill="#228b22"/>
<rect x="802" y="312" width="3" height="10" fill="#228b22"/>
<rect x="803" y="313" width="1" height="8" fill="#32cd32"/>
<rect x="807" y="310" width="1" height="7" fill="#ff4500"/>
<rect x="806" y="313" width="3" height="3" fill="#ff4500"/>
<rect x="807" y="314" width="1" height="1" fill="#ff8c00"/>
<rect x="811" y="312" width="1" height="9" fill="#ff4500"/>
<rect x="810" y="315" width="3" height="4" fill="#ff4500"/>
<rect x="811" y="316" width="1" height="2" fill="#ff8c00"/>
<rect x="815" y="309" width="1" height="15" fill="#228b22"/>
<rect x="814" y="311" width="3" height="8" fill="#228b22"/>
<rect x="815" y="312" width="1" height="6" fill="#32cd32"/>
<rect x="819" y="298" width="1" height="15" fill="#228b22"/>
<rect x="818" y="301" width="3" height="10" fill="#228b22"/>
<rect x="819" y="302" width="1" height="8" fill="#32cd32"/>
<rect x="823" y="297" width="1" height="17" fill="#ff4500"/>
<rect x="822" y="301" width="3" height="10" fill="#ff4500"/>
<rect x="823" y="302" width="1" height="8" fill="#ff8c00"/>
<rect x="827" y="310" width="1" height="13" fill="#ff4500"/>
<rect x="826" y="310" width="3" height="11" fill="#ff4500"/>
<rect x="827" y="311" width="1" height="9" fill="#ff8c00"/>
<rect x="831" y="317" width="1" height="11" fill="#ff4500"/>
<rect x="830" y="319" width="3" height="6" fill="#ff4500"/>
<rect x="831" y="320" width="1" height="4" fill="#ff8c00"/>
<rect x="835" y="321" width="1" height="13" fill="#ff4500"/>
<rect x="834" y="323" width="3" height="5" fill="#ff4500"/>
<rect x="835" y="324" width="1" height="3" fill="#ff8c00"/>
<rect x="839" y="309" width="1" height="21" fill="#228b22"/>
<rect x="838" y="313" width="3" height="16" fill="#228b22"/>
<rect x="839" y="314" width="1" height="14" fill="#32cd32"/>
<rect x="843" y="298" width="1" height="19" fill="#228b22"/>
<rect x="842" y="304" width="3" height="10" fill="#228b22"/>
<rect x="843" y="305" width="1" height="8" fill="#32cd32"/>
<rect x="847" y="295" width="1" height="18" fill="#ff4500"/>
<rect x="846" y="304" width="3" height="9" fill="#ff4500"/>
<rect x="847" y="305" width="1" height="7" fill="#ff8c00"/>
<rect x="851" y="309" width="1" height="8" fill="#ff4500"/>
<rect x="850" y="312" width="3" height="4" fill="#ff4500"/>
<rect x="851" y="313" width="1" height="2" fill="#ff8c00"/>
<rect x="855" y="310" width="1" height="9" fill="#228b22"/>
<rect x="854" y="312" width="3" height="4" fill="#228b22"/>
<rect x="855" y="313" width="1" height="2" fill="#32cd32"/>
<rect x="859" y="312" width="1" height="10" fill="#ff4500"/>
<rect x="858" y="312" width="3" height="7" fill="#ff4500"/>
<rect x="859" y="313" width="1" height="5" fill="#ff8c00"/>
<rect x="863" y="302" width="1" height="18" fill="#228b22"/>
<rect x="862" y="309" width="3" height="11" fill="#228b22"/>
<rect x="863" y="310" width="1" height="9" fill="#32cd32"/>
<rect x="867" y="302" width="1" height="15" fill="#ff4500"/>
<rect x="866" y="308" width="3" height="3" fill="#ff4500"/>
<rect x="867" y="309" width="1" height="1" fill="#ff8c00"/>
<rect x="871" y="289" width="1" height="21" fill="#228b22"/>
<rect x="870" y="297" width="3" height="12" fill="#228b22"/>
<rect x="871" y="298" width="1" height="10" fill="#32cd32"/>
<rect x="875" y="287" width="1" height="15" fill="#228b22"/>
<rect x="874" y="290" width="3" height="7" fill="#228b22"/>
<rect x="875" y="291" width="1" height="5" fill="#32cd32"/>
<rect x="879" y="284" width="1" height="9" fill="#228b22"/>
<rect x="878" y="290" width="3" height="1" fill="#228b22"/>
<rect x="883" y="289" width="1" height="11" fill="#ff4500"/>
<rect x="882" y="289" width="3" height="8" fill="#ff4500"/>
<rect x="883" y="290" width="1" height="6" fill="#ff8c00"/>
<rect x="887" y="279" width="1" height="23" fill="#000"/>
<rect x="886" y="296" width="3" height="1" fill="#000"/>
<rect x="891" y="295" width="1" height="40" fill="#ff4500"/>
<rect x="890" y="296" width="3" height="3" fill="#ff4500"/>
<rect x="891" y="297" width="1" height="1" fill="#ff8c00"/>
<rect x="895" y="270" width="1" height="43" fill="#ff4500"/>
<rect x="894" y="299" width="3" height="11" fill="#ff4500"/>
<rect x="895" y="300" width="1" height="9" fill="#ff8c00"/>
<rect x="899" y="304" width="1" height="18" fill="#ff4500"/>
<rect x="898" y="310" width="3" height="9" fill="#ff4500"/>
<rect x="899" y="311" width="1" height="7" fill="#ff8c00"/>
<rect x="903" y="318" width="1" height="13" fill="#ff4500"/>
<rect x="902" y="318" width="3" height="13" fill="#ff4500"/>
<rect x="903" y="319" width="1" height="11" fill="#ff8c00"/>
<rect x="907" y="322" width="1" height="10" fill="#228b22"/>
<rect x="906" y="323" width="3" height="7" fill="#228b22"/>
<rect x="907" y="324" width="1" height="5" fill="#32cd32"/>
<rect x="911" y="296" width="1" height="29" fill="#228b22"/>
<rect x="910" y="307" width="3" height="17" fill="#228b22"/>
<rect x="911" y="308" width="1" height="15" fill="#32cd32"/>
<rect x="915" y="296" width="1" height="48" fill="#ff4500"/>
<rect x="914" y="307" width="3" height="29" fill="#ff4500"/>
<rect x="915" y="308" width="1" height="27" fill="#ff8c00"/>
<rect x="919" y="335" width="1" height="57" fill="#ff4500"/>
<rect x="918" y="335" width="3" height="47" fill="#ff4500"/>
<rect x="919" y="336" width="1" height="45" fill="#ff8c00"/>
<rect x="923" y="357" width="1" height="26" fill="#228b22"/>
<rect x="922" y="360" width="3" height="22" fill="#228b22"/>
<rect x="923" y="361" width="1" height="20" fill="#32cd32"/>
<rect x="927" y="355" width="1" height="9" fill="#000"/>
<rect x="926" y="360" width="3" height="1" fill="#000"/>
<rect x="931" y="355" width="1" height="12" fill="#ff4500"/>
<rect x="930" y="360" width="3" height="4" fill="#ff4500"/>
<rect x="931" y="361" width="1" height="2" fill="#ff8c00"/>
<rect x="935" y="346" width="1" height="19" fill="#228b22"/>
<rect x="934" y="351" width="3" height="14" fill="#228b22"/>
<rect x="935" y="352" width="1" height="12" fill="#32cd32"/>
<rect x="939" y="308" width="1" height="47" fill="#228b22"/>
<rect x="938" y="312" width="3" height="41" fill="#228b22"/>
<rect x="939" y="313" width="1" height="39" fill="#32cd32"/>
<rect x="943" y="310" width="1" height="32" fill="#ff4500"/>
<rect x="942" y="313" width="3" height="28" fill="#ff4500"/>
<rect x="943" y="314" width="1" height="26" fill="#ff8c00"/>
<rect x="947" y="336" width="1" height="13" fill="#ff4500"/>
<rect x="946" y="340" width="3" height="5" fill="#ff4500"/>
<rect x="947" y="341" width="1" height="3" fill="#ff8c00"/>
<rect x="951" y="308" width="1" height="19" fill="#228b22"/>
<rect x="950" y="311" width="3" height="4" fill="#228b22"/>
<rect x="951" y="312" width="1" height="2" fill="#32cd32"/>
<rect x="955" y="296" width="1" height="18" fill="#228b22"/>
<rect x="954" y="301" width="3" height="12" fill="#228b22"/>
<rect x="955" y="302" width="1" height="10" fill="#32cd32"/>
<rect x="959" y="298" width="1" height="32" fill="#ff4500"/>
<rect x="958" y="300" width="3" height="14" fill="#ff4500"/>
<rect x="959" y="301" width="1" height="12" fill="#ff8c00"/>
<rect x="963" y="307" width="1" height="20" fill="#ff4500"/>
<rect x="962" y="313" width="3" height="3" fill="#ff4500"/>
<rect x="963" y="314" width="1" height="1" fill="#ff8c00"/>
<rect x="967" y="300" width="1" height="37" fill="#ff4500"/>
<rect x="966" y="314" width="3" height="10" fill="#ff4500"/>
<rect x="967" y="315" width="1" height="8" fill="#ff8c00"/>
<rect x="971" y="319" width="1" height="14" fill="#ff4500"/>
<rect x="970" y="322" width="3" height="3" fill="#ff4500"/>
<rect x="971" y="323" width="1" height="1" fill="#ff8c00"/>
<rect x="975" y="321" width="1" height="7" fill="#228b22"/>
<rect x="974" y="323" width="3" height="2" fill="#228b22"/>
<rect x="979" y="318" width="1" height="8" fill="#228b22"/>
<rect x="978" y="321" width="3" height="3" fill="#228b22"/>
<rect x="979" y="322" width="1" height="1" fill="#32cd32"/>
<rect x="983" y="306" width="1" height="17" fill="#228b22"/>
<rect x="982" y="307" width="3" height="15" fill="#228b22"/>
<rect x="983" y="308" width="1" height="13" fill="#32cd32"/>
<rect x="987" y="299" width="1" height="11" fill="#ff4500"/>
<rect x="986" y="306" width="3" height="2" fill="#ff4500"/>
<rect x="991" y="275" width="1" height="33" fill="#228b22"/>
<rect x="990" y="276" width="3" height="31" fill="#228b22"/>
<rect x="991" y="277" width="1" height="29" fill="#32cd32"/>
<rect x="995" y="270" width="1" height="17" fill="#228b22"/>
<rect x="994" y="271" width="3" height="6" fill="#228b22"/>
<rect x="995" y="272" width="1" height="4" fill="#32cd32"/>
<rect x="999" y="267" width="1" height="61" fill="#ff4500"/>
<rect x="998" y="275" width="3" height="42" fill="#ff4500"/>
<rect x="999" y="276" width="1" height="40" fill="#ff8c00"/>
<rect x="1003" y="315" width="1" height="65" fill="#ff4500"/>
<rect x="1002" y="317" width="3" height="48" fill="#ff4500"/>
<rect x="1003" y="318" width="1" height="46" fill="#ff8c00"/>
<rect x="1007" y="343" width="1" height="47" fill="#228b22"/>
<rect x="1006" y="357" width="3" height="7" fill="#228b22"/>
<rect x="1007" y="358" width="1" height="5" fill="#32cd32"/>
<rect x="1011" y="351" width="1" height="43" fill="#ff4500"/>
<rect x="1010" y="357" width="3" height="23" fill="#ff4500"/>
<rect x="1011" y="358" width="1" height="21" fill="#ff8c00"/>
<rect x="1015" y="352" width="1" height="46" fill="#228b22"/>
<rect x="1014" y="363" width="3" height="18" fill="#228b22"/>
<rect x="1015" y="364" width="1" height="16" fill="#32cd32"/>
<rect x="1019" y="345" width="1" height="27" fill="#ff4500"/>
<rect x="1018" y="363" width="3" height="9" fill="#ff4500"/>
<rect x="1019" y="364" width="1" height="7" fill="#ff8c00"/>
<rect x="1023" y="361" width="1" height="13" fill="#228b22"/>
<rect x="1022" y="363" width="3" height="8" fill="#228b22"/>
<rect x="1023" y="364" width="1" height="6" fill="#32cd32"/>
<rect x="1027" y="336" width="1" height="28" fill="#228b22"/>
<rect x="1026" y="338" width="3" height="26" fill="#228b22"/>
<rect x="1027" y="339" width="1" height="24" fill="#32cd32"/>
<rect x="1031" y="328" width="1" height="25" fill="#ff4500"/>
<rect x="1030" y="339" width="3" height="14" fill="#ff4500"/>
<rect x="1031" y="340" width="1" height="12" fill="#ff8c00"/>
<rect x="1035" y="311" width="1" height="48" fill="#228b22"/>
<rect x="1034" y="313" width="3" height="40" fill="#228b22"/>
<rect x="1035" y="314" width="1" height="38" fill="#32cd32"/>
<rect x="1039" y="290" width="1" height="29" fill="#228b22"/>
<rect x="1038" y="302" width="3" height="11" fill="#228b22"/>
<rect x="1039" y="303" width="1" height="9" fill="#32cd32"/>
<rect x="1043" y="301" width="1" height="27" fill="#ff4500"/>
<rect x="1042" y="302" width="3" height="3" fill="#ff4500"/>
<rect x="1043" y="303" width="1" height="1" fill="#ff8c00"/>
<rect x="1047" y="303" width="1" height="16" fill="#ff4500"/>
<rect x="1046" y="305" width="3" height="8" fill="#ff4500"/>
<rect x="1047" y="306" width="1" height="6" fill="#ff8c00"/>
<rect x="1051" y="310" width="1" height="10" fill="#ff4500"/>
<rect x="1050" y="313" width="3" height="2" fill="#ff4500"/>
<rect x="1055" y="312" width="1" height="24" fill="#ff4500"/>
<rect x="1054" y="313" width="3" height="8" fill="#ff4500"/>
<rect x="1055" y="314" width="1" height="6" fill="#ff8c00"/>
<rect x="1059" y="310" width="1" height="31" fill="#ff4500"/>
<rect x="1058" y="321" width="3" height="12" fill="#ff4500"/>
<rect x="1059" y="322" width="1" height="10" fill="#ff8c00"/>
<rect x="1063" y="327" width="1" height="41" fill="#ff4500"/>
<rect x="1062" y="331" width="3" height="28" fill="#ff4500"/>
<rect x="1063" y="332" width="1" height="26" fill="#ff8c00"/>
<rect x="1067" y="341" width="1" height="19" fill="#228b22"/>
<rect x="1066" y="346" width="3" height="13" fill="#228b22"/>
<rect x="1067" y="347" width="1" height="11" fill="#32cd32"/>
<rect x="1071" y="340" width="1" height="21" fill="#228b22"/>
<rect x="1070" y="346" width="3" height="4" fill="#228b22"/>
<rect x="1071" y="347" width="1" height="2" fill="#32cd32"/>
<rect x="1075" y="343" width="1" height="14" fill="#ff4500"/>
<rect x="1074" y="346" width="3" height="2" fill="#ff4500"/>
<rect x="1079" y="343" width="1" height="25" fill="#ff4500"/>
<rect x="1078" y="348" width="3" height="10" fill="#ff4500"/>
<rect x="1079" y="349" width="1" height="8" fill="#ff8c00"/>
<rect x="1083" y="353" width="1" height="31" fill="#ff4500"/>
<rect x="1082" y="357" width="3" height="21" fill="#ff4500"/>
<rect x="1083" y="358" width="1" height="19" fill="#ff8c00"/>
<rect x="1087" y="370" width="1" height="14" fill="#ff4500"/>
<rect x="1086" y="377" width="3" height="3" fill="#ff4500"/>
<rect x="1087" y="378" width="1" height="1" fill="#ff8c00"/>
<rect x="1091" y="376" width="1" height="8" fill="#228b22"/>
<rect x="1090" y="377" width="3" height="4" fill="#228b22"/>
<rect x="1091" y="378" width="1" height="2" fill="#32cd32"/>
<rect x="1095" y="373" width="1" height="11" fill="#ff4500"/>
<rect x="1094" y="377" width="3" height="4" fill="#ff4500"/>
<rect x="1095" y="378" width="1" height="2" fill="#ff8c00"/>
<rect x="1099" y="380" width="1" height="20" fill="#ff4500"/>
<rect x="1098" y="381" width="3" height="18" fill="#ff4500"/>
<rect x="1099" y="382" width="1" height="16" fill="#ff8c00"/>
<rect x="1103" y="399" width="1" height="24" fill="#ff4500"/>
<rect x="1102" y="399" width="3" height="5" fill="#ff4500"/>
<rect x="1103" y="400" width="1" height="3" fill="#ff8c00"/>
<rect x="1107" y="399" width="1" height="17" fill="#ff4500"/>
<rect x="1106" y="404" width="3" height="8" fill="#ff4500"/>
<rect x="1107" y="405" width="1" height="6" fill="#ff8c00"/>
<rect x="1111" y="411" width="1" height="57" fill="#ff4500"/>
<rect x="1110" y="412" width="3" height="47" fill="#ff4500"/>
<rect x="1111" y="413" width="1" height="45" fill="#ff8c00"/>
<rect x="1115" y="448" width="1" height="12" fill="#228b22"/>
<rect x="1114" y="450" width="3" height="10" fill="#228b22"/>
<rect x="1115" y="451" width="1" height="8" fill="#32cd32"/>
<rect x="1119" y="446" width="1" height="14" fill="#228b22"/>
<rect x="1118" y="448" width="3" height="2" fill="#228b22"/>
<rect x="1123" y="445" width="1" height="12" fill="#ff4500"/>
<rect x="1122" y="447" width="3" height="6" fill="#ff4500"/>
<rect x="1123" y="448" width="1" height="4" fill="#ff8c00"/>
<rect x="1127" y="445" width="1" height="16" fill="#228b22"/>
<rect x="1126" y="447" width="3" height="5" fill="#228b22"/>
<rect x="1127" y="448" width="1" height="3" fill="#32cd32"/>
<rect x="1131" y="436" width="1" height="21" fill="#228b22"/>
<rect x="1130" y="445" width="3" height="4" fill="#228b22"/>
<rect x="1131" y="446" width="1" height="2" fill="#32cd32"/>
<rect x="1135" y="444" width="1" height="44" fill="#ff4500"/>
<rect x="1134" y="446" width="3" height="27" fill="#ff4500"/>
<rect x="1135" y="447" width="1" height="25" fill="#ff8c00"/>
<rect x="1139" y="466" width="1" height="13" fill="#ff4500"/>
<rect x="1138" y="473" width="3" height="3" fill="#ff4500"/>
<rect x="1139" y="474" width="1" height="1" fill="#ff8c00"/>
<rect x="1143" y="471" width="1" height="14" fill="#ff4500"/>
<rect x="1142" y="471" width="3" height="12" fill="#ff4500"/>
<rect x="1143" y="472" width="1" height="10" fill="#ff8c00"/>
<rect x="1147" y="482" width="1" height="14" fill="#ff4500"/>
<rect x="1146" y="482" width="3" height="5" fill="#ff4500"/>
<rect x="1147" y="483" width="1" height="3" fill="#ff8c00"/>
<rect x="1151" y="481" width="1" height="25" fill="#ff4500"/>
<rect x="1150" y="487" width="3" height="19" fill="#ff4500"/>
<rect x="1151" y="488" width="1" height="17" fill="#ff8c00"/>
<rect x="1155" y="491" width="1" height="31" fill="#000"/>
<rect x="1154" y="504" width="3" height="1" fill="#000"/>
<rect x="1159" y="466" width="1" height="40" fill="#228b22"/>
<rect x="1158" y="476" width="3" height="30" fill="#228b22"/>
<rect x="1159" y="477" width="1" height="28" fill="#32cd32"/>
<rect x="1163" y="475" width="1" height="36" fill="#ff4500"/>
<rect x="1162" y="476" width="3" height="25" fill="#ff4500"/>
<rect x="1163" y="477" width="1" height="23" fill="#ff8c00"/>
<rect x="1167" y="495" width="1" height="11" fill="#ff4500"/>
<rect x="1166" y="499" width="3" height="1" fill="#ff4500"/>
<rect x="1171" y="489" width="1" height="11" fill="#228b22"/>
<rect x="1170" y="493" width="3" height="7" fill="#228b22"/>
<rect x="1171" y="494" width="1" height="5" fill="#32cd32"/>
<rect x="1175" y="484" width="1" height="27" fill="#ff4500"/>
<rect x="1174" y="494" width="3" height="14" fill="#ff4500"/>
<rect x="1175" y="495" width="1" height="12" fill="#ff8c00"/>
<rect x="1179" y="480" width="1" height="36" fill="#ff4500"/>
<rect x="1178" y="508" width="3" height="2" fill="#ff4500"/>
<rect x="1183" y="506" width="1" height="25" fill="#ff4500"/>
<rect x="1182" y="508" width="3" height="15" fill="#ff4500"/>
<rect x="1183" y="509" width="1" height="13" fill="#ff8c00"/>
<rect x="1187" y="519" width="1" height="23" fill="#ff4500"/>
<rect x="1186" y="523" width="3" height="6" fill="#ff4500"/>
<rect x="1187" y="524" width="1" height="4" fill="#ff8c00"/>
<rect x="1191" y="513" width="1" height="25" fill="#228b22"/>
<rect x="1190" y="518" width="3" height="8" fill="#228b22"/>
<rect x="1191" y="519" width="1" height="6" fill="#32cd32"/>
<rect x="1195" y="515" width="1" height="13" fill="#ff4500"/>
<rect x="1194" y="518" width="3" height="3" fill="#ff4500"/>
<rect x="1195" y="519" width="1" height="1" fill="#ff8c00"/>
<path fill="none" stroke="#3cb371" stroke-width="1" d="M455.5 54v3M801.5 283v2M461.5 70v3M704.5 241v2M92.5 208v2M1171.5 384v4M205.5 122v2M533.5 215v2M1177.5 403v3M506.5 196v6M390.5 23v2M88.5 216v2M483.5 107v2M1127.5 293v2M428.5 26v2M120.5 176v2M1166.5 370v2M58.5 206v5M1134.5 309v2M918.5 275v3M994.5 271v2M1145.5 324v2M1149.5 331v2M472.5 88v2M990.5 279v2M449.5 40v2M87.5 218v2M216.5 102v2M499.5 160v4M1159.5 355v4M453.5 49v3M502.5 171v4M212.5 110v2M1169.5 378v3M460.5 68v2M196.5 138v2M271.5 52v2M492.5 134v4M1172.5 388v3M281.5 36v2M535.5 219v2M126.5 163v2M495.5 146v3M467.5 83v2M1176.5 400v3M481.5 103v2M989.5 281v2M1125.5 289v2M215.5 104v2M1126.5 291v2M488.5 120v4M274.5 47v2M1136.5 313v2M82.5 227v2M211.5 112v2M1133.5 307v2M207.5 119v2M125.5 165v2M392.5 20v2M1154.5 341v3M1160.5 359v2M1069.5 276v2M498.5 157v3M501.5 167v4M1182.5 417v4M122.5 171v3M56.5 198v4M1168.5 374v4M59.5 211v3M491.5 130v4M465.5 79v2M44.5 179v2M202.5 127v2M387.5 30v2M1109.5 280v2M787.5 264v2M117.5 182v2M129.5 156v2M646.5 239v2M915.5 284v2M1174.5 394v3M1156.5 346v3M991.5 277v2M1070.5 278v3M276.5 44v2M386.5 32v2M84.5 224v2M1108.5 282v2M1074.5 288v2M1187.5 430v2M197.5 136v2M718.5 253v2M475.5 94v2M279.5 39v2M450.5 42v2M789.5 267v2M1162.5 363v2M503.5 175v5M803.5 287v2M1173.5 391v3M496.5 149v4M485.5 111v3M482.5 105v2M53.5 193v2M1129.5 297v2M246.5 72v2M223.5 88v2M269.5 55v2M505.5 188v8M1147.5 328v2M74.5 229v2M473.5 90v2M448.5 38v2M121.5 174v2M253.5 64v2M1161.5 361v2M791.5 270v2M222.5 90v2M534.5 217v2M484.5 109v2M1128.5 295v2M55.5 196v2M116.5 184v2M1135.5 311v2M504.5 180v8M128.5 158v3M217.5 100v2M497.5 153v4M500.5 164v3M493.5 138v4M91.5 210v2M389.5 25v2M1122.5 283v2M1179.5 408v2M200.5 130v2M917.5 278v3M993.5 273v2M90.5 212v2M219.5 96v2M445.5 31v2M874.5 293v2M388.5 27v3M462.5 73v2M494.5 142v4M190.5 144v2M437.5 21v2M1124.5 287v2M1178.5 406v2M507.5 202v4M89.5 214v2M218.5 98v2M1121.5 281v2M214.5 106v2M124.5 167v2M213.5 108v2M457.5 60v3M209.5 115v2M464.5 77v2M127.5 161v2M123.5 169v2M489.5 124v3M1130.5 299v3M95.5 204v2M1151.5 335v2M474.5 92v2M1158.5 352v3M46.5 182v2M1111.5 276v2M49.5 187v2M452.5 46v3M1072.5 284v2M1165.5 368v2M1186.5 428v2M1107.5 284v2M456.5 57v3M71.5 224v2M86.5 220v2M1153.5 339v2M1150.5 333v2M1157.5 349v3M451.5 44v2M1181.5 413v4M1071.5 281v3M1184.5 424v2M1164.5 366v2M226.5 82v2M272.5 50v2M794.5 274v2M490.5 127v3M1170.5 381v3M225.5 84v2M1137.5 315v2M208.5 117v2M221.5 92v2M532.5 213v2M1123.5 285v2M1180.5 410v3M427.5 28v2M1183.5 421v3M119.5 178v2M57.5 202v4M131.5 152v2M1144.5 322v2M150.5 143v2M153.5 147v2M188.5 147v2M203.5 125v2M1110.5 278v2M199.5 132v2M130.5 154v2M459.5 65v3M531.5 211v2M463.5 75v2M916.5 281v3M466.5 81v2M992.5 275v2M480.5 101v2M1175.5 397v3M988.5 283v2M487.5 117v3M85.5 222v2M798.5 279v2M1132.5 304v3M198.5 134v2M81.5 229v2M447.5 35v3M444.5 29v2M48.5 185v2M486.5 114v3M224.5 86v2M1152.5 337v2M50.5 189v2M1073.5 286v2M278.5 41v2M802.5 285v2M113.5 188v2M477.5 97v2M1167.5 372v2M418.5 24v2M1185.5 426v2M1146.5 326v2M73.5 227v2M429.5 24v2M454.5 52v2M919.5 273v2M458.5 63v2M468.5 85v2M220.5 94v2M1155.5 344v2M446.5 33v2M118.5 180v2M42.5 176v2M1068.5 274v2M1075.5 290v2M1131.5 302v2M549 227.5h1M561 227.5h12M248 70.5h1M805 289.5h2M883 289.5h2M975 289.5h5M1100 289.5h2M887 287.5h2M894 287.5h6M971 287.5h1M983 287.5h2M1103 287.5h2M97 202.5h1M551 229.5h2M558 229.5h2M576 229.5h3M668 229.5h7M849 296.5h8M872 296.5h1M1080 296.5h2M5 169.5h3M35 169.5h1M527 210.5h3M609 244.5h6M622 244.5h4M638 244.5h4M706 244.5h1M790 269.5h1M927 269.5h4M944 269.5h3M1016 269.5h8M1030 269.5h2M1040 269.5h3M1062 269.5h2M67 220.5h1M536 220.5h6M595 238.5h2M647 238.5h1M701 238.5h1M810 291.5h4M876 291.5h5M1097 291.5h1M936 267.5h6M1046 267.5h3M1055 267.5h6M339 26.5h13M419 26.5h1M441 26.5h1M135 148.5h1M171 148.5h2M184 148.5h2M201 129.5h1M134 149.5h1M154 149.5h1M170 149.5h1M186 149.5h2M54 195.5h1M106 195.5h1M820 293.5h13M1077 293.5h1M1093 293.5h2M723 259.5h1M782 259.5h1M719 255.5h1M748 255.5h19M770 255.5h7M833 294.5h2M1078 294.5h1M1084 294.5h9M814 292.5h6M875 292.5h1M1076 292.5h1M1095 292.5h2M396 17.5h8M143 142.5h2M149 142.5h1M192 142.5h1M1148 330.5h1M588 234.5h2M653 234.5h2M690 234.5h2M322 30.5h4M359 30.5h3M365 30.5h5M425 30.5h2M590 235.5h2M651 235.5h2M692 235.5h2M470 87.5h2M75 231.5h6M554 231.5h1M556 231.5h1M582 231.5h2M660 231.5h4M679 231.5h4M602 242.5h3M644 242.5h1M112 190.5h1M722 258.5h1M724 258.5h5M742 258.5h2M781 258.5h1M94 206.5h1M509 206.5h6M11 166.5h1M31 166.5h2M287 32.5h2M293 32.5h26M375 32.5h2M788 266.5h1M1049 266.5h6M605 243.5h4M626 243.5h12M642 243.5h2M705 243.5h1M720 256.5h1M735 256.5h4M746 256.5h2M767 256.5h3M777 256.5h2M804 288.5h1M885 288.5h2M972 288.5h3M980 288.5h3M1102 288.5h1M1193 436.5h2M597 239.5h1M702 239.5h1M712 248.5h2M285 33.5h2M377 33.5h3M792 272.5h1M920 272.5h2M951 272.5h2M997 272.5h1M1001 272.5h5M1066 272.5h1M8 168.5h2M34 168.5h1M714 249.5h1M793 273.5h1M953 273.5h2M998 273.5h3M1067 273.5h1M132 151.5h1M156 151.5h2M167 151.5h1M337 27.5h2M352 27.5h2M420 27.5h1M442 27.5h1M835 295.5h14M873 295.5h1M1079 295.5h1M1082 295.5h2M553 230.5h1M557 230.5h1M579 230.5h3M664 230.5h4M675 230.5h4M592 236.5h2M649 236.5h2M694 236.5h4M555 232.5h1M584 232.5h2M657 232.5h3M683 232.5h5M231 77.5h2M14 164.5h15M228 80.5h1M922 271.5h2M949 271.5h2M996 271.5h1M1006 271.5h4M1034 271.5h3M1065 271.5h1M1189 433.5h2M133 150.5h1M155 150.5h1M168 150.5h2M289 31.5h4M319 31.5h3M362 31.5h3M370 31.5h5M247 71.5h1M270 54.5h1M931 268.5h5M942 268.5h2M1024 268.5h6M1043 268.5h3M1061 268.5h1M924 270.5h3M947 270.5h2M995 270.5h1M1010 270.5h6M1032 270.5h2M1037 270.5h3M1064 270.5h1M800 282.5h1M965 282.5h1M715 250.5h1M210 114.5h1M469 86.5h1M206 121.5h1M407 20.5h7M433 20.5h1M436 20.5h1M40 174.5h1M233 76.5h2M240 76.5h4M41 175.5h1M105 196.5h1M721 257.5h1M729 257.5h6M739 257.5h3M744 257.5h2M779 257.5h2M862 299.5h2M869 299.5h1M889 286.5h5M900 286.5h14M969 286.5h2M985 286.5h1M1105 286.5h2M1191 434.5h1M594 237.5h1M648 237.5h1M698 237.5h3M1192 435.5h1M710 247.5h2M145 141.5h4M193 141.5h2M393 19.5h1M405 19.5h2M434 19.5h2M235 75.5h5M244 75.5h1M280 38.5h1M137 146.5h1M152 146.5h1M177 146.5h5M189 146.5h1M51 191.5h1M111 191.5h1M807 290.5h3M881 290.5h2M1098 290.5h2M967 284.5h1M69 222.5h1M543 222.5h1M10 167.5h1M33 167.5h1M795 276.5h1M958 276.5h2M1112 276.5h4M785 262.5h1M586 233.5h2M655 233.5h2M688 233.5h2M799 281.5h1M964 281.5h1M391 22.5h1M416 22.5h1M431 22.5h1M283 34.5h2M380 34.5h2M384 34.5h2M332 28.5h5M354 28.5h2M421 28.5h2M443 28.5h1M158 152.5h2M165 152.5h2M550 228.5h1M560 228.5h1M573 228.5h3M417 23.5h1M430 23.5h1M438 23.5h1M439 24.5h1M93 207.5h1M515 207.5h7M254 63.5h1M227 81.5h1M98 201.5h1M708 246.5h2M62 216.5h2M797 278.5h1M961 278.5h1M1117 278.5h2M136 147.5h1M173 147.5h4M182 147.5h2M859 298.5h3M870 298.5h1M615 245.5h7M707 245.5h1M394 18.5h2M404 18.5h1M440 25.5h1M141 143.5h2M191 143.5h1M103 197.5h2M66 219.5h1M914 285.5h1M968 285.5h1M986 285.5h2M139 144.5h2M108 193.5h2M275 46.5h1M1195 437.5h1M115 186.5h1M61 215.5h1M256 61.5h2M262 61.5h2M598 240.5h2M703 240.5h1M600 241.5h2M645 241.5h1M39 173.5h1M326 29.5h6M356 29.5h3M423 29.5h2M546 224.5h1M962 279.5h1M1119 279.5h1M138 145.5h1M151 145.5h1M414 21.5h2M432 21.5h1M72 226.5h1M83 226.5h1M548 226.5h1M258 60.5h4M264 60.5h1M963 280.5h1M1120 280.5h1M796 277.5h1M960 277.5h1M1116 277.5h1M43 178.5h1M47 184.5h1M864 300.5h2M868 300.5h1M96 203.5h1M1140 319.5h2M251 67.5h1M716 251.5h1M64 217.5h1M45 181.5h1M102 198.5h1M866 301.5h2M70 223.5h1M544 223.5h2M60 214.5h1M3 170.5h2M36 170.5h1M52 192.5h1M110 192.5h1M282 35.5h1M382 35.5h2M160 153.5h2M163 153.5h2M530 211.5h1M476 96.5h1M1163 365.5h1M252 66.5h1M204 124.5h1M255 62.5h1M250 68.5h1M99 200.5h2M1143 321.5h1M101 199.5h1M1139 318.5h1M195 140.5h1M12 165.5h2M29 165.5h2M273 49.5h1M230 78.5h1M956 275.5h2M68 221.5h1M542 221.5h1M267 58.5h1M525 209.5h2M522 208.5h3M37 171.5h1M38 172.5h1M1142 320.5h1M245 74.5h1M268 57.5h1M229 79.5h1M1138 317.5h1M65 218.5h1M478 99.5h1M479 100.5h1M547 225.5h1M162 154.5h1M955 274.5h1M966 283.5h1M508 205.5h1M277 43.5h1M783 260.5h1M784 261.5h1M265 59.5h2M249 69.5h1M857 297.5h2M871 297.5h1M786 263.5h1M107 194.5h1M717 252.5h1M114 187.5h1M1188 432.5h1"/>
<path fill="none" stroke="#3cb371" stroke-width="1" d="M50.5 234v2M243.5 134v2M1121.5 372v2M1125.5 379v2M1175.5 464v2M499.5 218v2M1179.5 470v2M1146.5 415v2M1114.5 360v2M1117.5 365v2M1164.5 446v2M1167.5 451v2M443.5 133v2M451.5 149v2M428.5 101v2M429.5 103v2M1181.5 473v2M264.5 109v2M1156.5 434v2M1169.5 454v2M248.5 128v2M284.5 87v2M438.5 121v2M55.5 240v2M445.5 137v2M463.5 168v2M466.5 173v2M1154.5 431v2M1158.5 437v2M436.5 117v2M437.5 119v2M447.5 141v2M1135.5 397v2M444.5 135v2M468.5 176v2M1160.5 440v2M1148.5 419v2M457.5 157v2M1149.5 421v2M148.5 202v2M1116.5 363v2M1166.5 449v2M1170.5 456v2M1133.5 393v2M1137.5 400v2M431.5 107v2M1126.5 381v2M496.5 214v2M1129.5 386v2M1147.5 417v2M1118.5 367v2M487.5 202v2M1128.5 384v2M440.5 126v2M1182.5 475v2M261.5 114v2M439.5 123v3M504.5 224v2M1184.5 478v2M446.5 139v2M449.5 145v2M482.5 195v2M459.5 161v2M456.5 155v2M1186.5 481v2M271.5 101v2M1139.5 404v2M433.5 111v2M484.5 198v2M458.5 159v2M316.5 74v2M461.5 164v2M1120.5 370v2M1171.5 458v2M1138.5 402v2M1141.5 407v2M1162.5 443v2M432.5 109v2M442.5 130v3M1130.5 388v2M139.5 213v2M1122.5 374v2M1173.5 461v2M1143.5 410v2M419.5 91v2M774.5 296v2M1132.5 391v2M441.5 128v2M1124.5 377v2M144.5 207v2M490.5 206v2M450.5 147v2M1108.5 352v2M1151.5 425v2M448.5 143v2M263.5 111v2M470.5 179v2M434.5 113v2M1153.5 429v2M462.5 166v2M1150.5 423v2M435.5 115v2M1134.5 395v2M1177.5 467v2M1144.5 412v2M1111.5 356v2M474.5 184v2M430.5 105v2M464.5 170v2M1152.5 427v2M478.5 189v2M493.5 210v2M480.5 192v2M789 309.5h1M879 309.5h4M905 309.5h5M914 309.5h2M761 291.5h4M31 221.5h2M132 221.5h1M501 221.5h1M192 175.5h2M467 175.5h1M12 210.5h2M142 210.5h1M216 159.5h1M607 258.5h11M631 258.5h10M647 258.5h2M1176 466.5h1M804 316.5h5M862 316.5h4M925 316.5h1M65 249.5h2M91 249.5h2M568 249.5h5M24 216.5h2M137 216.5h1M497 216.5h1M157 194.5h2M481 194.5h1M61 246.5h1M96 246.5h2M558 246.5h2M29 219.5h1M134 219.5h1M832 319.5h2M852 319.5h4M930 319.5h2M153 197.5h2M483 197.5h1M730 287.5h17M664 268.5h2M1113 359.5h1M717 284.5h4M657 264.5h2M783 305.5h2M721 285.5h3M785 306.5h1M969 331.5h4M983 331.5h3M1063 331.5h1M172 187.5h2M476 187.5h1M118 235.5h1M528 235.5h2M601 257.5h6M641 257.5h6M47 231.5h1M122 231.5h1M512 231.5h10M217 158.5h2M67 250.5h2M90 250.5h1M573 250.5h4M765 292.5h4M27 218.5h2M135 218.5h1M72 253.5h1M83 253.5h3M583 253.5h4M973 332.5h10M1064 332.5h2M618 259.5h13M649 259.5h2M293 80.5h15M406 80.5h2M334 66.5h3M357 66.5h17M391 66.5h1M966 330.5h3M986 330.5h2M1034 330.5h5M1061 330.5h2M324 69.5h3M395 69.5h1M964 329.5h2M988 329.5h2M1032 329.5h2M1039 329.5h12M1060 329.5h1M322 70.5h2M396 70.5h1M337 65.5h2M353 65.5h4M374 65.5h2M389 65.5h2M786 307.5h2M887 307.5h13M73 254.5h2M78 254.5h5M587 254.5h3M51 236.5h1M117 236.5h1M530 236.5h2M962 328.5h2M990 328.5h1M1028 328.5h4M1051 328.5h9M836 321.5h8M934 321.5h7M62 247.5h2M94 247.5h2M560 247.5h4M779 302.5h2M222 154.5h1M455 154.5h1M52 237.5h1M116 237.5h1M532 237.5h2M595 256.5h6M53 238.5h1M114 238.5h2M534 238.5h3M238 140.5h1M14 211.5h2M141 211.5h1M941 322.5h2M998 322.5h14M756 290.5h5M1178 469.5h1M327 68.5h3M393 68.5h2M59 245.5h2M98 245.5h2M555 245.5h3M43 229.5h2M124 229.5h1M508 229.5h2M3 208.5h7M491 208.5h1M686 277.5h4M956 327.5h6M991 327.5h2M1023 327.5h5M817 318.5h15M856 318.5h3M928 318.5h2M945 324.5h2M995 324.5h2M1016 324.5h2M1115 362.5h1M330 67.5h4M392 67.5h1M381 63.5h6M793 312.5h2M872 312.5h2M919 312.5h2M310 78.5h2M404 78.5h1M775 298.5h1M714 283.5h3M272 100.5h1M427 100.5h1M1195 488.5h1M318 72.5h2M398 72.5h1M267 106.5h1M287 84.5h1M412 84.5h1M339 64.5h14M376 64.5h5M387 64.5h2M226 151.5h1M452 151.5h1M225 152.5h1M453 152.5h1M668 270.5h2M662 267.5h2M33 222.5h1M131 222.5h1M502 222.5h1M279 93.5h1M420 93.5h1M782 304.5h1M75 255.5h3M590 255.5h5M10 209.5h2M143 209.5h1M492 209.5h1M213 161.5h2M69 251.5h1M88 251.5h2M577 251.5h3M683 276.5h3M308 79.5h2M405 79.5h1M809 317.5h8M859 317.5h3M926 317.5h2M107 241.5h2M544 241.5h3M170 188.5h2M477 188.5h1M146 205.5h1M489 205.5h1M778 301.5h1M20 214.5h2M48 232.5h1M121 232.5h1M522 232.5h2M215 160.5h1M1077 341.5h2M694 279.5h4M788 308.5h1M883 308.5h4M900 308.5h5M910 308.5h4M199 170.5h2M797 314.5h3M868 314.5h2M922 314.5h1M709 282.5h5M792 311.5h1M874 311.5h2M918 311.5h1M56 242.5h1M105 242.5h2M547 242.5h3M1085 344.5h12M57 243.5h1M102 243.5h3M550 243.5h3M161 192.5h3M230 148.5h1M180 183.5h2M473 183.5h1M58 244.5h1M100 244.5h2M553 244.5h2M70 252.5h2M86 252.5h2M580 252.5h3M164 191.5h2M479 191.5h1M237 141.5h1M257 119.5h1M1068 334.5h1M273 99.5h1M426 99.5h1M64 248.5h1M93 248.5h1M564 248.5h4M205 166.5h2M182 182.5h2M472 182.5h1M290 81.5h3M408 81.5h2M268 105.5h1M1145 414.5h1M1112 358.5h1M834 320.5h2M844 320.5h8M932 320.5h2M119 234.5h1M526 234.5h2M800 315.5h4M866 315.5h2M923 315.5h2M241 137.5h1M45 230.5h2M123 230.5h1M510 230.5h2M752 289.5h4M49 233.5h1M120 233.5h1M524 233.5h2M155 196.5h1M174 186.5h2M475 186.5h1M1082 343.5h3M150 200.5h1M485 200.5h1M38 226.5h2M127 226.5h1M505 226.5h1M147 204.5h1M488 204.5h1M790 310.5h2M876 310.5h3M916 310.5h2M1070 336.5h1M30 220.5h1M133 220.5h1M500 220.5h1M189 178.5h1M469 178.5h1M400 74.5h1M401 75.5h1M223 153.5h2M454 153.5h1M196 172.5h2M465 172.5h1M1168 453.5h1M677 274.5h3M231 147.5h1M950 326.5h6M993 326.5h1M1020 326.5h3M1127 383.5h1M703 281.5h6M1079 342.5h3M795 313.5h2M870 313.5h2M921 313.5h1M747 288.5h5M159 193.5h2M228 149.5h2M249 127.5h1M690 278.5h4M54 239.5h1M112 239.5h2M537 239.5h4M314 76.5h2M402 76.5h1M178 184.5h2M312 77.5h2M403 77.5h1M35 224.5h2M129 224.5h1M253 123.5h1M26 217.5h1M136 217.5h1M498 217.5h1M260 116.5h1M947 325.5h3M994 325.5h1M1018 325.5h2M1180 472.5h1M1072 338.5h1M1073 339.5h2M40 227.5h2M126 227.5h1M506 227.5h1M207 165.5h1M285 86.5h1M414 86.5h1M266 107.5h1M1097 345.5h2M247 130.5h1M1110 355.5h1M1157 436.5h1M242 136.5h1M1161 442.5h1M278 94.5h1M421 94.5h1M1193 487.5h2M317 73.5h1M399 73.5h1M289 82.5h1M410 82.5h1M674 273.5h3M666 269.5h2M288 83.5h1M411 83.5h1M37 225.5h1M128 225.5h1M190 177.5h1M698 280.5h5M16 212.5h2M140 212.5h1M494 212.5h1M416 88.5h1M283 89.5h1M417 89.5h1M184 181.5h2M471 181.5h1M221 155.5h1M772 294.5h1M149 201.5h1M486 201.5h1M1103 348.5h1M724 286.5h6M1119 369.5h1M1172 460.5h1M943 323.5h2M997 323.5h1M1012 323.5h4M204 167.5h1M672 272.5h2M227 150.5h1M109 240.5h3M541 240.5h3M176 185.5h2M1069 335.5h1M234 144.5h1M254 122.5h1M680 275.5h3M1183 477.5h1M265 108.5h1M246 131.5h1M769 293.5h3M277 95.5h1M422 95.5h1M1174 463.5h1M22 215.5h2M138 215.5h1M258 118.5h1M1075 340.5h2M187 179.5h2M269 104.5h1M152 198.5h1M1101 347.5h2M776 299.5h1M195 173.5h1M1071 337.5h1M1185 480.5h1M286 85.5h1M413 85.5h1M670 271.5h2M220 156.5h1M1066 333.5h2M276 96.5h1M423 96.5h1M201 169.5h1M235 143.5h1M34 223.5h1M130 223.5h1M503 223.5h1M202 168.5h2M1106 350.5h1M415 87.5h1M1107 351.5h1M1099 346.5h2M42 228.5h1M125 228.5h1M507 228.5h1M211 162.5h2M250 126.5h1M1188 484.5h2M1142 409.5h1M151 199.5h1M1159 439.5h1M1163 445.5h1M194 174.5h1M18 213.5h2M495 213.5h1M1131 390.5h1M210 163.5h1M460 163.5h1M1104 349.5h2M651 260.5h2M1123 376.5h1M1140 406.5h1M1165 448.5h1M259 117.5h1M275 97.5h1M424 97.5h1M166 190.5h2M270 103.5h1M208 164.5h2M660 266.5h2M282 90.5h1M418 90.5h1M145 206.5h1M168 189.5h2M320 71.5h2M397 71.5h1M1190 485.5h1M656 263.5h1M773 295.5h1M191 176.5h1M156 195.5h1M1191 486.5h2M233 145.5h1M1155 433.5h1M245 132.5h1M240 138.5h1M251 125.5h1M1187 483.5h1M186 180.5h1M653 261.5h2M781 303.5h1M274 98.5h1M425 98.5h1M255 121.5h1M281 91.5h1M777 300.5h1M219 157.5h1M1109 354.5h1M659 265.5h1M198 171.5h1M232 146.5h1M252 124.5h1M655 262.5h1M244 133.5h1M280 92.5h1M239 139.5h1M1136 399.5h1M236 142.5h1M256 120.5h1M262 113.5h1"/>
<path fill="none" stroke="#3cb371" stroke-width="1" d="M996.5 378v2M431.5 190v6M780.5 345v2M1115.5 449v3M505.5 262v3M1098.5 398v2M261.5 164v3M478.5 280v2M648.5 281v2M1136.5 487v2M663.5 303v2M438.5 220v4M391.5 108v6M241.5 200v2M916.5 337v6M1111.5 432v6M143.5 271v2M441.5 231v3M236.5 207v2M1144.5 503v2M152.5 249v3M995.5 380v2M448.5 247v2M232.5 213v2M433.5 203v4M260.5 167v2M318.5 114v3M59.5 277v2M397.5 126v3M138.5 282v2M1114.5 446v3M647.5 279v2M1124.5 469v2M426.5 166v3M1121.5 463v2M651.5 285v2M317.5 117v2M437.5 216v4M267.5 151v2M1142.5 499v2M251.5 185v2M263.5 159v3M137.5 284v2M149.5 258v2M432.5 196v7M247.5 191v2M408.5 144v2M133.5 290v2M238.5 204v2M429.5 180v5M498.5 279v2M442.5 234v3M396.5 123v3M1122.5 465v2M1102.5 406v3M1123.5 467v2M435.5 209v3M1108.5 420v4M1109.5 424v4M145.5 267v2M860.5 334v2M141.5 275v3M1151.5 519v2M410.5 147v2M388.5 100v2M257.5 174v3M772.5 332v2M773.5 334v2M923.5 357v2M920.5 351v2M504.5 265v3M434.5 207v2M256.5 177v2M430.5 185v5M508.5 254v2M264.5 157v2M1117.5 455v2M158.5 233v2M412.5 150v2M386.5 96v2M182.5 217v2M661.5 300v2M387.5 98v2M379.5 94v2M1135.5 485v2M1110.5 428v4M255.5 179v2M155.5 241v3M998.5 373v2M62.5 278v2M507.5 256v3M922.5 355v2M450.5 251v2M1106.5 412v4M997.5 375v3M393.5 117v2M262.5 162v2M1116.5 452v3M414.5 153v2M144.5 269v2M1105.5 410v2M1011.5 374v2M501.5 273v2M151.5 252v3M398.5 129v2M459.5 261v2M1125.5 471v2M427.5 169v6M500.5 275v2M666.5 307v2M1191.5 537v2M1150.5 517v2M390.5 104v4M499.5 277v2M918.5 346v2M556.5 259v2M443.5 237v2M774.5 336v2M231.5 215v2M13.5 257v2M259.5 169v2M1127.5 474v2M654.5 289v2M234.5 210v2M1152.5 521v2M230.5 217v2M932.5 372v2M320.5 110v2M389.5 102v2M1137.5 489v2M917.5 343v3M1112.5 438v5M140.5 278v2M924.5 359v2M656.5 292v2M319.5 112v2M139.5 280v2M1118.5 457v2M1139.5 493v2M1146.5 508v2M146.5 264v3M658.5 295v2M154.5 244v2M1113.5 443v3M506.5 259v3M400.5 133v2M258.5 171v3M439.5 224v4M915.5 333v4M153.5 246v3M1148.5 512v3M1145.5 505v3M157.5 235v3M428.5 175v5M316.5 119v2M392.5 114v3M558.5 262v2M56.5 281v2M445.5 241v2M399.5 131v2M1101.5 403v3M456.5 256v2M245.5 194v2M136.5 286v2M148.5 260v2M1154.5 524v2M644.5 273v2M147.5 262v2M440.5 228v3M919.5 348v3M447.5 245v2M775.5 338v2M444.5 239v2M458.5 259v2M926.5 363v2M461.5 264v2M1107.5 416v4M436.5 212v4M669.5 311v2M142.5 273v2M646.5 277v2M1120.5 461v2M1138.5 491v2M266.5 153v2M1141.5 497v2M777.5 341v2M925.5 361v2M184.5 214v2M1130.5 478v2M265.5 155v2M395.5 121v2M249.5 188v2M1119.5 459v2M1014.5 378v2M1140.5 495v2M1147.5 510v2M420.5 158v2M243.5 197v2M1132.5 481v2M659.5 297v2M287.5 136v2M394.5 119v2M401.5 135v2M1100.5 401v2M503.5 268v3M150.5 255v3M185.5 212v2M9.5 252v2M385.5 94v2M181.5 219v2M254.5 181v2M446.5 243v2M449.5 249v2M928.5 367v2M156.5 238v3M377.5 97v2M645.5 275v2M424.5 163v2M999.5 371v2M1143.5 501v2M405.5 140v2M927.5 365v2M1103.5 409v2M1149.5 515v2M5.5 247v2M502.5 271v2M921.5 353v2M802 345.5h14M826 345.5h8M841 345.5h6M189 210.5h3M199 210.5h1M861 333.5h1M902 333.5h6M914 333.5h1M331 104.5h3M202 212.5h4M233 212.5h1M14 259.5h1M524 259.5h4M532 259.5h2M537 259.5h4M546 259.5h6M29 273.5h1M471 273.5h1M605 273.5h7M637 273.5h1M336 102.5h11M354 102.5h18M25 270.5h1M467 270.5h1M570 270.5h2M576 270.5h12M598 270.5h3M7 250.5h1M935 376.5h3M941 376.5h2M959 376.5h3M988 376.5h2M1012 376.5h1M36 280.5h1M57 280.5h1M63 280.5h5M82 280.5h1M8 251.5h1M380 93.5h2M384 93.5h1M933 374.5h1M966 374.5h21M37 281.5h1M45 281.5h7M83 281.5h2M497 281.5h1M1026 388.5h4M1074 388.5h1M1077 388.5h4M54 283.5h2M86 283.5h1M480 283.5h1M494 283.5h2M649 283.5h1M180 221.5h1M222 221.5h6M292 131.5h2M767 327.5h1M867 327.5h6M334 103.5h2M347 103.5h7M931 371.5h1M1000 371.5h4M667 309.5h1M171 227.5h2M943 377.5h2M956 377.5h3M990 377.5h1M1013 377.5h1M284 140.5h1M779 344.5h1M816 344.5h10M847 344.5h4M675 317.5h2M710 317.5h4M733 317.5h2M740 317.5h4M770 330.5h1M864 330.5h1M877 330.5h15M896 330.5h2M323 108.5h2M97 290.5h8M118 290.5h2M677 318.5h2M706 318.5h4M735 318.5h5M744 318.5h1M89 286.5h2M483 286.5h9M671 314.5h2M721 314.5h1M727 314.5h2M34 278.5h1M76 278.5h5M476 278.5h1M768 328.5h1M866 328.5h1M873 328.5h2M1055 390.5h6M1072 390.5h1M1083 390.5h1M674 316.5h1M714 316.5h4M731 316.5h2M276 144.5h2M159 233.5h1M1023 387.5h3M1075 387.5h2M220 220.5h2M228 220.5h1M782 348.5h1M793 348.5h2M1061 391.5h2M1071 391.5h1M1084 391.5h1M30 274.5h1M472 274.5h1M612 274.5h10M636 274.5h1M278 143.5h2M407 143.5h1M1153 523.5h1M160 232.5h2M929 369.5h1M382 92.5h2M934 375.5h1M938 375.5h3M962 375.5h4M987 375.5h1M781 347.5h1M795 347.5h3M11 255.5h1M454 255.5h2M509 255.5h2M31 275.5h1M473 275.5h1M622 275.5h14M771 331.5h1M863 331.5h1M898 331.5h2M910 331.5h2M947 379.5h7M992 379.5h2M784 350.5h2M790 350.5h1M755 323.5h2M250 187.5h1M26 271.5h2M468 271.5h1M572 271.5h4M588 271.5h2M594 271.5h4M601 271.5h2M1065 393.5h2M1068 393.5h1M1086 393.5h1M1089 393.5h3M295 129.5h10M15 260.5h1M528 260.5h4M541 260.5h5M94 289.5h3M105 289.5h13M134 289.5h1M12 256.5h1M511 256.5h4M1030 389.5h25M1073 389.5h1M1081 389.5h2M425 165.5h1M723 312.5h2M92 288.5h2M135 288.5h1M653 288.5h1M670 313.5h1M722 313.5h1M725 313.5h2M685 321.5h17M747 321.5h6M769 329.5h1M865 329.5h1M875 329.5h2M892 329.5h4M1192 539.5h2M763 326.5h4M1165 532.5h2M1168 532.5h14M945 378.5h2M954 378.5h2M991 378.5h1M285 139.5h1M404 139.5h1M38 282.5h7M52 282.5h2M85 282.5h1M479 282.5h1M496 282.5h1M22 267.5h1M463 267.5h1M565 267.5h2M32 276.5h1M60 276.5h1M474 276.5h1M35 279.5h1M58 279.5h1M68 279.5h8M81 279.5h1M477 279.5h1M1133 483.5h1M1187 535.5h2M1067 394.5h1M1087 394.5h2M1092 394.5h2M288 135.5h1M679 319.5h3M704 319.5h2M745 319.5h1M28 272.5h1M469 272.5h2M590 272.5h4M603 272.5h2M638 272.5h6M1104 410.5h1M183 216.5h1M212 216.5h2M178 222.5h2M862 332.5h1M900 332.5h2M908 332.5h2M912 332.5h2M515 257.5h5M372 101.5h2M252 184.5h1M1096 396.5h1M753 322.5h2M275 145.5h1M6 249.5h1M673 315.5h1M718 315.5h3M729 315.5h2M124 293.5h2M129 293.5h3M662 302.5h1M374 100.5h2M246 193.5h1M16 261.5h1M557 261.5h1M17 262.5h1M378 96.5h1M798 346.5h4M834 346.5h7M169 228.5h2M165 230.5h2M664 305.5h1M289 134.5h1M757 324.5h2M787 352.5h1M10 254.5h1M452 254.5h2M18 263.5h1M460 263.5h1M268 150.5h2M457 258.5h1M520 258.5h4M534 258.5h3M552 258.5h4M759 325.5h4M311 125.5h1M682 320.5h3M702 320.5h2M746 320.5h1M186 211.5h3M200 211.5h2M307 127.5h2M415 155.5h2M87 284.5h1M481 284.5h1M493 284.5h1M650 284.5h1M665 306.5h1M329 105.5h2M1160 527.5h1M1161 528.5h1M88 285.5h1M482 285.5h1M492 285.5h1M274 146.5h1M409 146.5h1M778 343.5h1M851 343.5h2M214 217.5h2M1185 534.5h2M216 218.5h2M208 214.5h2M1167 533.5h1M1182 533.5h3M853 342.5h1M321 109.5h2M1008 373.5h3M668 310.5h1M194 207.5h1M196 207.5h1M1094 395.5h2M167 229.5h2M1162 529.5h1M280 142.5h2M406 142.5h1M857 338.5h1M1163 530.5h1M1155 526.5h5M176 224.5h1M776 340.5h1M855 340.5h1M4 246.5h1M91 287.5h1M652 287.5h1M206 213.5h2M192 209.5h1M198 209.5h1M235 209.5h1M309 126.5h2M325 107.5h2M21 266.5h1M462 266.5h1M563 266.5h2M413 152.5h1M23 268.5h1M464 268.5h2M567 268.5h2M314 122.5h1M419 157.5h1M1194 540.5h2M290 133.5h1M239 203.5h1M1099 400.5h1M24 269.5h1M466 269.5h1M569 269.5h1M218 219.5h2M229 219.5h1M210 215.5h2M1189 536.5h2M421 160.5h1M174 225.5h2M783 349.5h1M791 349.5h2M1097 397.5h1M327 106.5h2M272 148.5h1M1004 372.5h4M1126 473.5h1M1063 392.5h2M1069 392.5h2M1085 392.5h1M195 206.5h1M237 206.5h1M451 253.5h1M162 231.5h3M423 162.5h1M244 196.5h1M122 292.5h2M132 292.5h1M282 141.5h2M858 337.5h1M1128 476.5h1M193 208.5h1M197 208.5h1M305 128.5h2M19 264.5h1M559 264.5h2M20 265.5h1M561 265.5h2M786 351.5h1M788 351.5h2M417 156.5h2M273 147.5h1M1129 477.5h1M126 294.5h3M657 294.5h1M120 291.5h2M655 291.5h1M315 121.5h1M33 277.5h1M61 277.5h1M475 277.5h1M240 202.5h1M376 99.5h1M994 380.5h1M1015 380.5h1M1164 531.5h1M854 341.5h1M270 149.5h2M411 149.5h1M294 130.5h1M173 226.5h1M660 299.5h1M402 137.5h1M286 138.5h1M403 138.5h1M1018 383.5h1M1019 384.5h1M856 339.5h1M248 190.5h1M1020 385.5h2M291 132.5h1M422 161.5h1M313 123.5h1M1131 480.5h1M253 183.5h1M930 370.5h1M3 245.5h1M1022 386.5h1M859 336.5h1M1016 381.5h1M1017 382.5h1M1134 484.5h1M177 223.5h1M312 124.5h1M242 199.5h1"/>
<path fill="none" stroke="#1e90ff" stroke-width="1" d="M188.5 614v2M943.5 632v2M358.5 616v2M601.5 639v3M76.5 634v4M787.5 648v2M370.5 625v2M362.5 621v2M312.5 621v2M392.5 649v2M771.5 645v2M774.5 650v2M558.5 652v3M999.5 625v4M463.5 650v2M18.5 644v2M1158.5 652v5M950.5 623v3M293.5 617v5M574.5 638v2M692.5 630v2M335.5 621v2M53.5 644v2M380.5 628v3M980.5 625v2M938.5 626v4M645.5 635v6M187.5 616v3M186.5 619v3M357.5 618v2M33.5 642v2M1026.5 632v2M649.5 645v2M622.5 629v2M767.5 637v2M1134.5 660v2M904.5 642v2M675.5 640v2M793.5 632v2M726.5 641v4M462.5 652v2M431.5 663v3M619.5 636v2M988.5 617v3M455.5 649v2M949.5 626v4M1002.5 637v4M743.5 643v2M790.5 637v4M573.5 640v3M1097.5 647v2M1108.5 656v3M691.5 632v2M941.5 627v3M41.5 635v3M371.5 627v2M599.5 635v2M937.5 630v4M360.5 617v2M383.5 637v2M918.5 652v4M361.5 619v2M185.5 622v2M477.5 650v2M1025.5 634v2M25.5 642v2M797.5 632v2M674.5 642v3M998.5 620v5M557.5 649v3M957.5 621v2M911.5 626v2M835.5 637v2M147.5 605v4M461.5 654v3M318.5 611v2M914.5 636v4M987.5 620v2M148.5 609v5M454.5 651v2M789.5 641v3M1156.5 661v5M644.5 630v5M40.5 638v3M564.5 645v2M724.5 633v4M769.5 641v2M184.5 624v3M735.5 648v2M991.5 609v2M868.5 623v2M932.5 644v2M17.5 646v2M909.5 631v3M1107.5 654v2M1012.5 644v2M317.5 613v2M108.5 619v2M150.5 620v5M1155.5 666v3M646.5 641v5M845.5 625v2M563.5 647v2M917.5 648v4M647.5 646v3M85.5 613v2M990.5 611v3M343.5 620v2M81.5 619v2M191.5 607v2M192.5 608v2M913.5 632v4M395.5 643v2M749.5 647v2M723.5 631v2M391.5 650v2M623.5 627v2M428.5 651v4M429.5 655v4M286.5 606v4M80.5 621v2M42.5 632v3M825.5 631v2M923.5 645v2M149.5 614v6M748.5 649v2M896.5 632v2M179.5 614v2M900.5 638v2M839.5 628v2M996.5 611v5M182.5 623v4M1060.5 632v2M1063.5 638v2M342.5 618v2M345.5 623v2M243.5 610v2M45.5 632v2M1010.5 644v2M110.5 616v2M1033.5 627v3M881.5 616v2M921.5 650v3M892.5 624v2M1082.5 642v2M451.5 658v2M717.5 629v2M151.5 625v3M762.5 636v2M838.5 630v2M285.5 602v4M144.5 599v2M197.5 611v2M738.5 641v2M671.5 651v2M1032.5 630v3M382.5 634v3M906.5 639v2M898.5 635v2M629.5 626v2M902.5 642v2M727.5 645v2M181.5 620v3M1133.5 658v2M560.5 653v2M430.5 659v4M617.5 634v2M337.5 616v2M1001.5 633v4M196.5 613v2M237.5 612v4M238.5 616v4M457.5 654v2M1110.5 661v3M891.5 622v2M746.5 649v2M363.5 623v2M997.5 616v4M621.5 631v3M559.5 655v2M146.5 603v2M294.5 622v4M494.5 646v2M43.5 630v2M605.5 641v2M388.5 642v3M628.5 624v2M119.5 603v2M768.5 639v2M142.5 599v2M65.5 644v2M164.5 623v3M456.5 651v3M240.5 618v3M744.5 645v2M600.5 637v2M118.5 605v2M406.5 640v2M862.5 626v2M163.5 626v2M239.5 620v3M387.5 640v2M869.5 621v2M167.5 614v2M405.5 642v2M295.5 626v3M788.5 644v4M816.5 626v2M291.5 610v3M82.5 617v2M1062.5 636v2M1160.5 650v2M166.5 616v3M336.5 618v3M16.5 648v2M982.5 622v2M404.5 644v2M940.5 625v2M1190.5 656v2M359.5 615v2M1080.5 639v2M716.5 627v2M989.5 614v3M791.5 635v2M1000.5 629v4M460.5 657v2M77.5 630v4M901.5 640v2M64.5 646v2M821.5 625v2M236.5 608v4M194.5 612v2M459.5 659v2M908.5 634v3M1003.5 641v3M1109.5 659v2M893.5 626v2M316.5 615v2M1188.5 659v2M603.5 644v2M718.5 631v2M870.5 619v2M934.5 640v2M695.5 624v2M145.5 601v2M190.5 609v2M915.5 640v4M394.5 645v2M630.5 628v2M801.5 632v2M770.5 643v2M933.5 642v2M694.5 626v2M235.5 605v3M79.5 623v3M1157.5 657v4M48.5 636v2M189.5 611v3M458.5 656v3M602.5 642v2M393.5 647v2M556.5 646v3M340.5 613v2M1035.5 622v2M575.5 636v2M693.5 628v2M325.5 611v2M242.5 612v3M948.5 630v3M1027.5 630v2M920.5 653v3M389.5 645v2M936.5 634v4M841.5 625v2M1023.5 638v2M772.5 647v2M837.5 632v3M620.5 634v2M673.5 645v3M1034.5 624v3M50.5 639v2M8.5 642v2M745.5 647v2M737.5 643v3M604.5 643v2M919.5 656v2M1132.5 656v2M555.5 644v2M760.5 639v2M183.5 627v2M1014.5 641v2M951.5 621v2M1162.5 654v2M672.5 648v3M912.5 628v4M939.5 623v3M338.5 613v3M751.5 643v2M379.5 626v2M493.5 648v2M569.5 643v2M907.5 637v2M314.5 618v2M356.5 620v2M292.5 613v4M1161.5 652v2M750.5 645v2M193.5 610v2M572.5 643v2M284.5 598v4M1024.5 636v2M117.5 607v2M165.5 619v4M910.5 628v3M916.5 644v4M453.5 653v3M571.5 645v2M180.5 616v4M39.5 641v2M199.5 607v2M1159.5 649v3M195.5 614v2M566.5 642v2M452.5 656v2M894.5 628v2M562.5 649v2M283.5 596v2M589.5 639v2M339.5 611v2M198.5 609v2M813.5 630v2M942.5 630v2M390.5 647v3M725.5 637v4M736.5 646v2M561.5 651v2M820.5 623v2M492.5 650v2M52.5 642v2M1111.5 664v2M10.5 645v2M922.5 647v3M895.5 630v2M747.5 651v2M995.5 608v3M1059.5 630v2M341.5 615v3M1008.5 641v2M140.5 602v2M78.5 626v4M606.5 639v2M6.5 642v2M1065.5 636v2M427.5 648v3M66.5 642v2M287.5 610v3M241.5 615v3M54.5 646v2M860.5 630v2M4.5 645v2M947.5 633v2M381.5 631v3M1031.5 633v2M407.5 638v2M836.5 635v2M818.5 623v2M643.5 627v3M369.5 623v2M75.5 638v2M368.5 621v2M132.5 599v2M861.5 628v2M739.5 639v2M116.5 609v2M822.5 627v2M935.5 638v2M1061.5 634v2M115.5 611v2M134.5 602v2M47 635.5h1M583 635.5h1M611 635.5h1M688 635.5h1M763 635.5h1M799 635.5h1M828 635.5h2M1066 635.5h1M1076 635.5h1M156 625.5h2M160 625.5h1M308 625.5h1M346 625.5h1M348 625.5h1M625 625.5h1M711 625.5h2M817 625.5h1M863 625.5h5M961 625.5h3M1053 625.5h2M20 642.5h1M38 642.5h1M69 642.5h3M411 642.5h2M517 642.5h3M568 642.5h1M591 642.5h1M742 642.5h1M752 642.5h1M1004 642.5h1M1018 642.5h2M576 637.5h2M580 637.5h1M586 637.5h2M596 637.5h1M608 637.5h1M684 637.5h2M766 637.5h1M832 637.5h2M899 637.5h1M1078 637.5h1M5 644.5h1M9 644.5h1M26 644.5h1M32 644.5h1M396 644.5h2M417 644.5h4M503 644.5h5M514 644.5h1M521 644.5h1M553 644.5h2M565 644.5h1M650 644.5h1M652 644.5h1M903 644.5h1M1083 644.5h2M1089 644.5h4M613 633.5h2M616 633.5h1M719 633.5h1M809 633.5h3M826 633.5h1M944 633.5h1M1030 633.5h1M7 641.5h1M21 641.5h2M24 641.5h1M34 641.5h1M36 641.5h2M51 641.5h1M67 641.5h2M72 641.5h1M410 641.5h1M567 641.5h1M590 641.5h1M592 641.5h1M741 641.5h1M753 641.5h1M758 641.5h2M905 641.5h1M1005 641.5h2M1016 641.5h2M1020 641.5h1M1081 641.5h1M206 609.5h2M244 609.5h1M321 609.5h3M992 609.5h1M1128 656.5h2M1163 656.5h2M1175 656.5h5M23 640.5h1M35 640.5h1M73 640.5h2M386 640.5h1M409 640.5h1M593 640.5h1M740 640.5h1M754 640.5h1M756 640.5h2M1007 640.5h1M1015 640.5h1M1021 640.5h2M581 636.5h2M584 636.5h2M597 636.5h2M609 636.5h2M618 636.5h1M686 636.5h2M764 636.5h2M830 636.5h2M1077 636.5h1M444 660.5h2M1116 660.5h2M1121 660.5h3M1183 660.5h2M275 595.5h1M281 595.5h2M478 652.5h1M485 652.5h1M490 652.5h2M669 652.5h2M775 652.5h1M783 652.5h1M1102 652.5h2M1171 652.5h1M105 619.5h1M332 619.5h1M883 619.5h5M954 619.5h2M1039 619.5h2M204 608.5h2M208 608.5h1M245 608.5h2M993 608.5h2M3 647.5h1M11 647.5h1M56 647.5h2M60 647.5h2M425 647.5h2M467 647.5h6M498 647.5h2M511 647.5h1M524 647.5h2M528 647.5h1M533 647.5h1M546 647.5h2M648 647.5h1M656 647.5h1M728 647.5h2M122 601.5h2M133 601.5h1M141 601.5h1M221 601.5h3M263 601.5h1M217 603.5h2M226 603.5h2M260 603.5h1M436 664.5h1M1112 664.5h1M1141 664.5h4M311 623.5h1M351 623.5h2M364 623.5h1M627 623.5h1M696 623.5h2M700 623.5h2M704 623.5h2M708 623.5h1M843 623.5h1M958 623.5h1M1047 623.5h5M44 631.5h1M639 631.5h1M722 631.5h1M794 631.5h1M796 631.5h1M802 631.5h1M804 631.5h2M858 631.5h1M1028 631.5h1M344 622.5h1M353 622.5h3M365 622.5h1M698 622.5h2M706 622.5h2M819 622.5h1M1045 622.5h2M200 607.5h4M209 607.5h2M231 607.5h1M247 607.5h9M46 634.5h1M612 634.5h1M689 634.5h2M792 634.5h1M798 634.5h1M800 634.5h1M827 634.5h1M897 634.5h1M945 634.5h2M1067 634.5h9M779 655.5h1M1130 655.5h2M1165 655.5h3M1174 655.5h1M1191 655.5h2M304 628.5h1M372 628.5h1M634 628.5h2M642 628.5h1M815 628.5h1M847 628.5h1M854 628.5h2M967 628.5h10M1057 628.5h1M1150 668.5h1M1153 668.5h2M481 654.5h3M777 654.5h2M780 654.5h1M1106 654.5h1M1168 654.5h1M1173 654.5h1M1193 654.5h3M1127 657.5h1M1180 657.5h1M27 645.5h5M398 645.5h3M421 645.5h3M495 645.5h1M501 645.5h2M508 645.5h1M513 645.5h1M522 645.5h1M531 645.5h1M550 645.5h3M570 645.5h1M653 645.5h2M924 645.5h5M1085 645.5h4M1093 645.5h3M58 646.5h2M401 646.5h3M424 646.5h1M496 646.5h2M500 646.5h1M509 646.5h2M512 646.5h1M523 646.5h1M529 646.5h2M532 646.5h1M548 646.5h2M655 646.5h1M929 646.5h3M1011 646.5h1M1096 646.5h1M120 602.5h2M219 602.5h2M224 602.5h2M261 602.5h2M158 624.5h2M309 624.5h2M349 624.5h2M626 624.5h1M702 624.5h2M709 624.5h2M842 624.5h1M844 624.5h1M959 624.5h2M981 624.5h1M1052 624.5h1M439 661.5h5M1115 661.5h1M1185 661.5h3M96 613.5h1M113 613.5h2M168 613.5h1M173 613.5h2M326 613.5h1M446 659.5h5M1118 659.5h3M1124 659.5h1M1182 659.5h1M19 643.5h1M413 643.5h4M515 643.5h2M520 643.5h1M651 643.5h1M1009 643.5h1M1013 643.5h1M106 620.5h1M313 620.5h1M333 620.5h1M367 620.5h1M888 620.5h1M952 620.5h2M956 620.5h1M1037 620.5h2M1041 620.5h3M135 604.5h5M216 604.5h1M228 604.5h1M259 604.5h1M124 600.5h2M264 600.5h2M104 618.5h1M109 618.5h1M331 618.5h1M871 618.5h1M882 618.5h1M479 653.5h2M484 653.5h1M776 653.5h1M781 653.5h2M1104 653.5h2M1169 653.5h2M1172 653.5h1M153 626.5h3M161 626.5h2M307 626.5h1M347 626.5h1M377 626.5h2M624 626.5h1M713 626.5h3M964 626.5h1M1055 626.5h1M102 617.5h2M315 617.5h1M330 617.5h1M872 617.5h1M615 632.5h1M720 632.5h2M806 632.5h3M812 632.5h1M859 632.5h1M1029 632.5h1M437 663.5h1M1113 663.5h1M1137 663.5h4M438 662.5h1M1114 662.5h1M1135 662.5h2M384 639.5h2M408 639.5h1M594 639.5h1M676 639.5h2M755 639.5h1M152 627.5h1M305 627.5h2M373 627.5h4M840 627.5h1M846 627.5h1M965 627.5h2M977 627.5h3M1056 627.5h1M296 629.5h2M301 629.5h3M632 629.5h2M636 629.5h1M641 629.5h1M814 629.5h1M823 629.5h1M848 629.5h2M852 629.5h2M856 629.5h1M1058 629.5h1M86 612.5h1M94 612.5h2M169 612.5h2M172 612.5h1M129 598.5h3M143 598.5h1M272 598.5h1M49 638.5h1M578 638.5h2M588 638.5h1M595 638.5h1M607 638.5h1M678 638.5h6M761 638.5h1M834 638.5h1M1064 638.5h1M1079 638.5h1M15 650.5h1M487 650.5h1M659 650.5h6M785 650.5h2M1099 650.5h1M211 606.5h2M230 606.5h1M232 606.5h2M256 606.5h1M274 596.5h1M432 665.5h4M1145 665.5h3M89 610.5h3M290 610.5h1M319 610.5h2M324 610.5h1M12 648.5h1M55 648.5h1M62 648.5h2M465 648.5h2M473 648.5h3M526 648.5h2M534 648.5h1M544 648.5h2M657 648.5h1M730 648.5h3M486 651.5h1M488 651.5h2M665 651.5h4M784 651.5h1M1100 651.5h2M13 649.5h2M464 649.5h1M476 649.5h1M535 649.5h9M658 649.5h1M733 649.5h2M773 649.5h1M1098 649.5h1M213 605.5h3M229 605.5h1M234 605.5h1M257 605.5h2M126 599.5h3M266 599.5h6M107 621.5h1M334 621.5h1M366 621.5h1M889 621.5h2M983 621.5h4M1036 621.5h1M1044 621.5h1M298 630.5h3M631 630.5h1M637 630.5h2M640 630.5h1M795 630.5h1M803 630.5h1M824 630.5h1M850 630.5h2M857 630.5h1M1125 658.5h2M1181 658.5h1M1189 658.5h1M97 614.5h2M112 614.5h1M175 614.5h4M327 614.5h1M875 614.5h5M84 615.5h1M99 615.5h1M111 615.5h1M328 615.5h1M874 615.5h1M880 615.5h1M87 611.5h2M92 611.5h2M171 611.5h1M288 611.5h2M83 616.5h1M100 616.5h2M329 616.5h1M873 616.5h1M273 597.5h1M1148 666.5h1M278 593.5h2M276 594.5h2M280 594.5h1M1149 667.5h1M1151 669.5h2"/>
<g fill="#000080">
<rect x="2" y="2" width="1222" height="1"/>
<rect x="2" y="2" width="1" height="556"/><rect x="2" y="559" width="1" height="138"/>
<rect x="1223" y="2" width="1" height="556"/><rect x="1223" y="559" width="1" height="138"/>
<rect x="1224" y="561" width="1" height="1"/><rect x="1224" y="695" width="1" height="1"/>
<rect x="2" y="557" width="1222" height="1"/>
<rect x="2" y="559" width="1222" height="1"/>
<rect x="2" y="696" width="1222" height="1"/>
<rect x="1224" y="37" width="2" height="1"/>
<rect x="1224" y="86" width="2" height="1"/>
<rect x="1224" y="137" width="2" height="1"/>
<rect x="1224" y="186" width="2" height="1"/>
<rect x="1224" y="237" width="2" height="1"/>
<rect x="1224" y="289" width="2" height="1"/>
<rect x="1224" y="338" width="2" height="1"/>
<rect x="1224" y="389" width="2" height="1"/>
<rect x="1224" y="438" width="2" height="1"/>
<rect x="1224" y="487" width="2" height="1"/>
<rect x="1224" y="538" width="2" height="1"/>
<rect x="1224" y="601" width="2" height="1"/>
<rect x="1224" y="655" width="2" height="1"/>
<rect x="3" y="697" width="1" height="3"/>
<rect x="99" y="697" width="1" height="3"/>
<rect x="195" y="697" width="1" height="3"/>
<rect x="291" y="697" width="1" height="3"/>
<rect x="387" y="697" width="1" height="3"/>
<rect x="483" y="697" width="1" height="3"/>
<rect x="579" y="697" width="1" height="3"/>
<rect x="675" y="697" width="1" height="3"/>
<rect x="771" y="697" width="1" height="3"/>
<rect x="867" y="697" width="1" height="3"/>
<rect x="963" y="697" width="1" height="3"/>
<rect x="1059" y="697" width="1" height="3"/>
<rect x="1155" y="697" width="1" height="3"/>
<rect x="1225" y="513" width="49" height="14"/>
<path d="M6 10H15L10.5 15Z"/>
</g>
</g>
<text x="1230" y="42" textLength="39" lengthAdjust="spacingAndGlyphs">1.3425</text>
<text x="1230" y="91" textLength="39" lengthAdjust="spacingAndGlyphs">1.3345</text>
<text x="1230" y="142" textLength="39" lengthAdjust="spacingAndGlyphs">1.3260</text>
<text x="1230" y="191" textLength="39" lengthAdjust="spacingAndGlyphs">1.3180</text>
<text x="1230" y="242" textLength="39" lengthAdjust="spacingAndGlyphs">1.3095</text>
<text x="1230" y="294" textLength="39" lengthAdjust="spacingAndGlyphs">1.3010</text>
<text x="1230" y="343" textLength="39" lengthAdjust="spacingAndGlyphs">1.2930</text>
<text x="1230" y="394" textLength="39" lengthAdjust="spacingAndGlyphs">1.2845</text>
<text x="1230" y="443" textLength="39" lengthAdjust="spacingAndGlyphs">1.2765</text>
<text x="1230" y="492" textLength="39" lengthAdjust="spacingAndGlyphs">1.2685</text>
<text x="1230" y="543" textLength="39" lengthAdjust="spacingAndGlyphs">1.2600</text>
<text x="1230" y="525" textLength="39" lengthAdjust="spacingAndGlyphs" style="fill:#fff;stroke:#fff">1.2630</text>
<text x="1226.5" y="573" textLength="21" lengthAdjust="spacingAndGlyphs">100</text>
<text x="1226" y="606" textLength="14" lengthAdjust="spacingAndGlyphs">70</text>
<text x="1226" y="660" textLength="14" lengthAdjust="spacingAndGlyphs">30</text>
<text x="1227.5" y="693" textLength="7" lengthAdjust="spacingAndGlyphs">0</text>
<text x="2.5" y="712" textLength="7" lengthAdjust="spacingAndGlyphs">9</text>
<text x="13.5" y="712" textLength="20" lengthAdjust="spacingAndGlyphs">Sep</text>
<text x="37.5" y="712" textLength="28" lengthAdjust="spacingAndGlyphs">2024</text>
<text x="98.5" y="712" textLength="14" lengthAdjust="spacingAndGlyphs">13</text>
<text x="116.5" y="712" textLength="20" lengthAdjust="spacingAndGlyphs">Sep</text>
<text x="140.5" y="712" textLength="32" lengthAdjust="spacingAndGlyphs">12:00</text>
<text x="194.5" y="712" textLength="14" lengthAdjust="spacingAndGlyphs">19</text>
<text x="212.5" y="712" textLength="20" lengthAdjust="spacingAndGlyphs">Sep</text>
<text x="236.5" y="712" textLength="32" lengthAdjust="spacingAndGlyphs">12:00</text>
<text x="290.5" y="712" textLength="14" lengthAdjust="spacingAndGlyphs">25</text>
<text x="308.5" y="712" textLength="20" lengthAdjust="spacingAndGlyphs">Sep</text>
<text x="332.5" y="712" textLength="32" lengthAdjust="spacingAndGlyphs">12:00</text>
<text x="386.5" y="712" textLength="7" lengthAdjust="spacingAndGlyphs">1</text>
<text x="397.5" y="712" textLength="19" lengthAdjust="spacingAndGlyphs">Oct</text>
<text x="420.5" y="712" textLength="32" lengthAdjust="spacingAndGlyphs">12:00</text>
<text x="482.5" y="712" textLength="7" lengthAdjust="spacingAndGlyphs">7</text>
<text x="493.5" y="712" textLength="19" lengthAdjust="spacingAndGlyphs">Oct</text>
<text x="516.5" y="712" textLength="32" lengthAdjust="spacingAndGlyphs">12:00</text>
<text x="578.5" y="712" textLength="14" lengthAdjust="spacingAndGlyphs">11</text>
<text x="596.5" y="712" textLength="19" lengthAdjust="spacingAndGlyphs">Oct</text>
<text x="619.5" y="712" textLength="32" lengthAdjust="spacingAndGlyphs">12:00</text>
<text x="674.5" y="712" textLength="14" lengthAdjust="spacingAndGlyphs">17</text>
<text x="692.5" y="712" textLength="19" lengthAdjust="spacingAndGlyphs">Oct</text>
<text x="715.5" y="712" textLength="32" lengthAdjust="spacingAndGlyphs">12:00</text>
<text x="770.5" y="712" textLength="14" lengthAdjust="spacingAndGlyphs">23</text>
<text x="788.5" y="712" textLength="19" lengthAdjust="spacingAndGlyphs">Oct</text>
<text x="811.5" y="712" textLength="32" lengthAdjust="spacingAndGlyphs">12:00</text>
<text x="866.5" y="712" textLength="14" lengthAdjust="spacingAndGlyphs">29</text>
<text x="884.5" y="712" textLength="19" lengthAdjust="spacingAndGlyphs">Oct</text>
<text x="907.5" y="712" textLength="32" lengthAdjust="spacingAndGlyphs">12:00</text>
<text x="962.5" y="712" textLength="7" lengthAdjust="spacingAndGlyphs">4</text>
<text x="973.5" y="712" textLength="20" lengthAdjust="spacingAndGlyphs">Nov</text>
<text x="997.5" y="712" textLength="32" lengthAdjust="spacingAndGlyphs">12:00</text>
<text x="1058.5" y="712" textLength="7" lengthAdjust="spacingAndGlyphs">8</text>
<text x="1069.5" y="712" textLength="20" lengthAdjust="spacingAndGlyphs">Nov</text>
<text x="1093.5" y="712" textLength="32" lengthAdjust="spacingAndGlyphs">12:00</text>
<text x="1154.5" y="712" textLength="14" lengthAdjust="spacingAndGlyphs">14</text>
<text x="1172.5" y="712" textLength="20" lengthAdjust="spacingAndGlyphs">Nov</text>
<text x="1196.5" y="712" textLength="32" lengthAdjust="spacingAndGlyphs">12:00</text>
<text x="21" y="17" textLength="64" lengthAdjust="spacingAndGlyphs">GBPUSD,H4</text>
<text x="93" y="17" textLength="39" lengthAdjust="spacingAndGlyphs">1.2633</text>
<text x="136" y="17" textLength="39" lengthAdjust="spacingAndGlyphs">1.2639</text>
<text x="179" y="17" textLength="39" lengthAdjust="spacingAndGlyphs">1.2619</text>
<text x="222" y="17" textLength="39" lengthAdjust="spacingAndGlyphs">1.2630</text>
<text x="7" y="575" textLength="42" lengthAdjust="spacingAndGlyphs">RSI(14)</text>
<text x="53" y="575" textLength="46" lengthAdjust="spacingAndGlyphs">30.3418</text>
</svg></body></html>
